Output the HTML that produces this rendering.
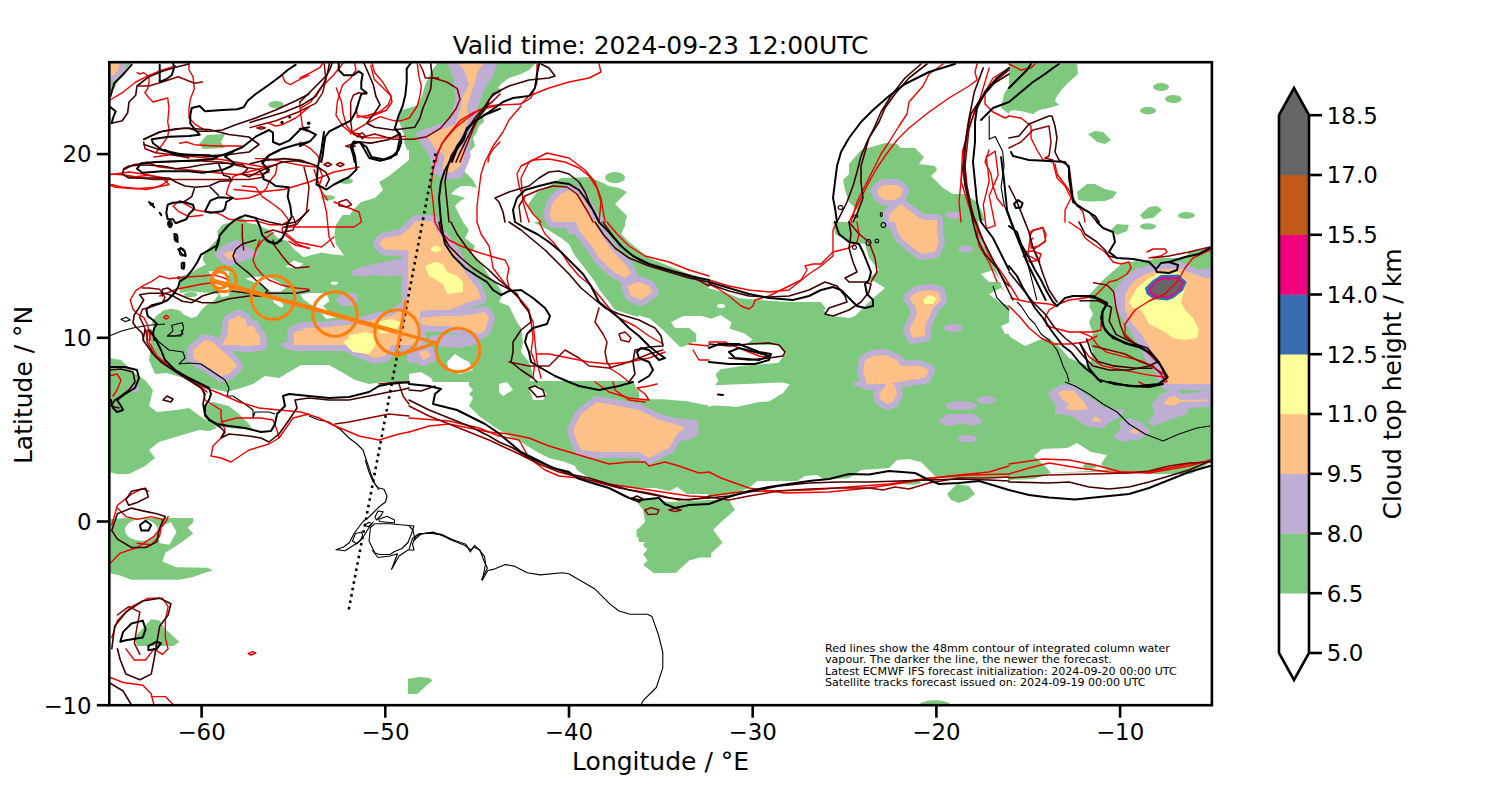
<!DOCTYPE html>
<html><head><meta charset="utf-8"><title>Cloud top height</title>
<style>html,body{margin:0;padding:0;background:#fff;} svg{display:block;}</style></head>
<body><svg width="1500" height="800" viewBox="0 0 1500 800">
<rect width="1500" height="800" fill="#fff"/>
<clipPath id="ax"><rect x="109.3" y="62.2" width="1102.6" height="643.0"/></clipPath>
<g clip-path="url(#ax)"><polygon points="109.0,62.0 132.0,62.0 127.0,68.0 121.0,76.0 117.0,82.0 115.0,88.0 109.0,92.0" fill="#7fc97f"/><ellipse cx="276.0" cy="104.6" rx="7.6" ry="3.6" fill="#7fc97f"/><polygon points="199.0,144.0 207.0,135.0 225.0,134.0 221.0,142.0 225.0,148.0 203.0,149.0" fill="#7fc97f"/><polygon points="409.0,108.0 400.0,115.0 403.0,122.0 405.0,130.0 404.0,142.0 407.0,150.0 409.0,150.0" fill="#7fc97f"/><polygon points="409.0,160.0 399.0,168.0 389.0,176.0 379.0,182.0 383.0,190.0 375.0,198.0 361.0,202.0 353.0,210.0 345.0,222.0 409.0,222.0" fill="#7fc97f"/><ellipse cx="346.0" cy="181.0" rx="7.0" ry="3.0" fill="#7fc97f"/><ellipse cx="328.0" cy="197.6" rx="7.0" ry="2.6" fill="#7fc97f"/><polygon points="437.0,62.0 537.0,62.0 529.0,70.0 521.0,74.0 509.0,78.0 501.0,84.0 498.0,88.0 503.0,90.0 493.0,94.0 489.0,100.0 487.0,108.0 483.0,116.0 484.0,122.0 479.0,126.0 477.0,132.0 473.0,138.0 475.0,146.0 469.0,152.0 467.0,158.0 461.0,168.0 467.0,174.0 473.0,180.0 477.0,188.0 469.0,186.0 461.0,186.0 455.0,190.0 451.0,194.0 459.0,196.0 465.0,198.0 459.0,202.0 455.0,206.0 459.0,214.0 463.0,222.0 409.0,222.0 409.0,106.0 417.0,98.0 419.0,88.0 425.0,78.0 429.0,70.0 435.0,66.0" fill="#7fc97f"/><polygon points="527.0,206.0 537.0,192.0 549.0,186.0 561.0,178.0 589.0,177.0 601.0,182.0 609.0,186.0 619.0,188.0 627.0,192.0 621.0,198.0 615.0,204.0 621.0,210.0 627.0,216.0 625.0,222.0 541.0,222.0 533.0,214.0" fill="#7fc97f"/><ellipse cx="615.0" cy="177.6" rx="10.0" ry="5.6" fill="#7fc97f"/><polygon points="849.0,164.0 861.0,150.0 885.0,143.0 897.0,144.0 901.0,148.0 915.0,148.0 924.0,157.0 919.0,164.0 935.0,166.0 937.0,170.0 931.0,176.0 943.0,188.0 953.0,194.0 965.0,194.0 977.0,202.0 983.0,214.0 985.0,222.0 853.0,222.0 857.0,210.0 849.0,202.0 845.0,190.0 843.0,180.0 849.0,174.0 849.0,168.0" fill="#7fc97f"/><polygon points="1009.0,86.0 1004.0,94.0 1001.0,108.0 1009.0,114.0" fill="#7fc97f"/><polygon points="1009.0,64.0 1077.0,64.0 1078.0,74.0 1069.0,82.0 1063.0,88.0 1057.0,96.0 1055.0,101.0 1059.0,105.0 1049.0,108.0 1039.0,110.0 1033.0,114.0 1021.0,111.0 1013.0,110.0 1009.0,112.0" fill="#7fc97f"/><ellipse cx="1161.0" cy="87.0" rx="8.0" ry="4.0" fill="#7fc97f"/><ellipse cx="1173.4" cy="99.0" rx="8.4" ry="4.0" fill="#7fc97f"/><ellipse cx="1148.0" cy="110.6" rx="8.0" ry="3.8" fill="#7fc97f"/><polygon points="1088.0,134.0 1095.0,131.0 1103.0,132.0 1111.0,140.0 1105.0,144.0 1097.0,142.0" fill="#7fc97f"/><polygon points="1077.0,192.0 1087.0,184.0 1095.0,184.0 1105.0,189.0 1117.0,192.0 1113.0,198.0 1105.0,201.0 1089.0,201.6 1078.0,200.0" fill="#7fc97f"/><polygon points="1140.0,215.0 1149.0,207.0 1157.0,206.0 1162.0,210.0 1153.0,218.0 1143.0,219.0" fill="#7fc97f"/><ellipse cx="1186.4" cy="215.4" rx="8.4" ry="3.4" fill="#7fc97f"/><polygon points="180.0,215.0 420.0,215.0 420.0,345.0 180.0,345.0" fill="#7fc97f"/><polygon points="180.0,215.0 240.1,215.0 233.6,221.5 222.2,224.7 217.4,231.2 218.2,237.7 212.5,244.2 204.4,252.4 202.7,258.9 207.6,263.7 197.9,268.6 189.7,273.5 180.0,276.7" fill="#ffffff"/><polygon points="240.1,215.0 342.5,215.0 336.0,224.7 334.4,234.5 336.0,244.2 344.1,255.6 329.5,254.0 321.4,252.4 303.5,257.2 293.7,249.1 287.2,241.0 277.5,237.7 271.0,231.2 258.0,224.7 248.2,223.1" fill="#ffffff"/><polygon points="285.6,267.0 293.7,260.5 303.5,263.7 297.0,268.6" fill="#ffffff"/><polygon points="245.0,278.4 254.7,276.7 267.7,276.7 280.7,283.2 285.6,288.1 280.7,291.4 271.0,291.4 264.5,286.5" fill="#ffffff"/><polygon points="271.0,296.2 277.5,296.2 284.0,306.0 280.7,307.6 274.2,302.7" fill="#ffffff"/><polygon points="300.2,294.6 310.0,293.0 326.2,293.0 329.5,301.1 323.0,306.0 329.5,312.5 336.0,317.4 326.2,319.0 319.7,310.9 313.2,306.0 303.5,299.5" fill="#ffffff"/><polygon points="180.0,293.0 189.7,291.4 212.5,293.0 219.0,294.6 209.2,306.0 199.5,315.7 193.0,319.0 186.5,315.7 180.0,312.5" fill="#ffffff"/><ellipse cx="334.4" cy="283.2" rx="3.6" ry="1.6" fill="#ffffff"/><polygon points="149.0,330.0 409.0,330.0 409.0,382.0 397.0,384.0 385.0,382.0 369.0,384.0 355.0,380.0 345.0,374.0 329.0,365.0 301.0,365.0 289.0,372.0 279.0,378.0 265.0,376.0 253.0,384.0 241.0,388.0 227.0,392.0 209.0,388.0 189.0,380.0 177.0,376.0 167.0,373.0 155.0,374.0 149.0,360.0 151.0,346.0" fill="#7fc97f"/><polygon points="109.0,358.0 121.0,360.0 133.0,372.0 145.0,380.0 153.0,390.0 149.0,406.0 157.0,412.0 177.0,410.0 189.0,408.0 197.0,414.0 209.0,422.0 217.0,428.0 209.0,431.0 199.0,430.0 179.0,436.0 159.0,442.0 149.0,450.0 155.0,458.0 145.0,466.0 129.0,474.0 117.0,474.0 109.0,472.0" fill="#7fc97f"/><polygon points="205.0,406.0 213.0,402.0 229.0,406.0 239.0,414.0 249.0,424.0 253.0,430.0 229.0,428.0 213.0,426.0 205.0,418.0" fill="#7fc97f"/><polygon points="409.0,222.0 463.0,222.0 469.0,230.0 465.0,238.0 475.0,246.0 471.0,254.0 479.0,260.0 483.0,266.0 489.0,276.0 497.0,284.0 503.0,294.0 499.0,302.0 509.0,306.0 513.0,314.0 517.0,322.0 521.0,328.0 523.0,342.0 521.0,352.0 529.0,362.0 533.0,374.0 529.0,382.0 409.0,382.0" fill="#7fc97f"/><polygon points="447.0,362.0 455.0,354.0 461.0,358.0 469.0,362.0 473.0,370.0 461.0,374.0 449.0,372.0" fill="#ffffff"/><polygon points="409.0,374.0 421.0,372.0 431.0,378.0 433.0,382.0 409.0,382.0" fill="#ffffff"/><polygon points="533.0,222.0 625.0,222.0 625.0,226.0 621.0,234.0 629.0,242.0 639.0,250.0 649.0,258.0 669.0,266.0 689.0,274.0 709.0,278.0 709.0,344.0 693.0,342.0 681.0,348.0 675.0,342.0 663.0,330.0 649.0,318.0 635.0,316.0 615.0,310.0 609.0,302.0 601.0,292.0 595.0,282.0 589.0,274.0 583.0,266.0 575.0,256.0 569.0,244.0 561.0,238.0 545.0,228.0" fill="#7fc97f"/><polygon points="671.0,322.0 681.0,318.0 695.0,320.0 689.0,328.0 675.0,328.0" fill="#ffffff"/><polygon points="709.0,222.0 1009.0,222.0 1009.0,382.0 709.0,382.0" fill="#7fc97f"/><polygon points="708.0,221.0 833.0,221.0 835.0,234.0 849.0,242.0 865.0,244.0 869.0,258.0 879.0,270.0 869.0,278.0 885.0,288.0 869.0,302.0 855.0,316.0 849.0,318.0 835.0,316.0 827.0,310.0 821.0,302.0 789.0,302.0 759.0,300.0 739.0,298.0 729.0,294.0 708.0,288.0" fill="#ffffff"/><polygon points="708.0,320.0 721.0,316.0 731.0,324.0 729.0,330.0 745.0,334.0 751.0,340.0 743.0,344.0 729.0,342.0 708.0,342.0" fill="#ffffff"/><ellipse cx="721.0" cy="306.0" rx="4.0" ry="2.0" fill="#ffffff"/><polygon points="708.0,366.0 715.0,368.0 717.0,382.0 708.0,382.0" fill="#ffffff"/><polygon points="981.0,274.0 993.0,270.0 1001.0,282.0 989.0,282.0" fill="#ffffff"/><polygon points="989.0,294.0 1001.0,288.0 1010.0,298.0 1010.0,306.0 999.0,302.0" fill="#ffffff"/><polygon points="1001.0,326.0 1010.0,322.0 1010.0,334.0 1005.0,334.0" fill="#ffffff"/><polygon points="1111.0,230.0 1117.0,224.0 1129.0,225.0 1127.0,231.0 1117.0,235.0" fill="#7fc97f"/><ellipse cx="1148.0" cy="226.4" rx="8.0" ry="3.2" fill="#7fc97f"/><polygon points="1009.0,336.0 1025.0,346.0 1039.0,340.0 1049.0,338.0 1057.0,344.0 1069.0,358.0 1089.0,366.0 1093.0,352.0 1089.0,342.0 1093.0,334.0 1089.0,322.0 1093.0,314.0 1089.0,306.0 1099.0,298.0 1109.0,286.0 1117.0,276.0 1127.0,266.0 1137.0,262.0 1149.0,260.0 1161.0,258.0 1185.0,258.0 1189.0,252.0 1211.0,248.0 1211.0,384.0 1009.0,384.0" fill="#7fc97f"/><polygon points="469.0,381.0 709.0,381.0 709.0,494.0 687.0,494.0 677.0,487.0 669.0,491.0 655.0,488.0 629.0,488.0 609.0,486.0 589.0,478.0 577.0,470.0 575.0,466.0 565.0,462.0 549.0,458.0 537.0,452.0 521.0,442.0 509.0,436.0 493.0,426.0 479.0,416.0 469.0,406.0 473.0,398.0 469.0,394.0 473.0,390.0 469.0,386.0" fill="#7fc97f"/><polygon points="637.0,502.0 649.0,498.0 669.0,502.0 709.0,500.0 709.0,542.0 639.0,542.0 637.0,530.0 645.0,522.0 643.0,510.0" fill="#7fc97f"/><polygon points="499.0,384.0 507.0,382.0 513.0,390.0 503.0,396.0 499.0,392.0" fill="#ffffff"/><polygon points="529.0,388.0 539.0,386.0 547.0,394.0 543.0,400.0 533.0,400.0" fill="#ffffff"/><polygon points="633.0,381.0 709.0,381.0 709.0,402.0 699.0,400.0 669.0,398.0 649.0,394.0 637.0,390.0" fill="#ffffff"/><polygon points="107.6,519.4 125.9,518.0 193.3,518.0 193.3,522.2 187.7,527.8 193.3,533.4 182.1,541.9 165.2,553.1 162.4,561.5 176.5,567.2 207.4,567.7 213.0,570.5 204.6,572.8 193.3,577.0 179.3,579.8 131.5,579.8 120.2,575.6 107.6,572.8" fill="#7fc97f"/><polygon points="158.2,526.4 170.9,522.2 176.5,532.0 169.4,544.7 159.6,543.3" fill="#ffffff"/><polygon points="134.3,637.4 151.2,619.2 159.6,620.6 165.2,629.0 179.3,641.7 173.7,645.9 137.1,645.9" fill="#7fc97f"/><polygon points="636.6,528.9 711.0,528.9 711.0,557.4 700.0,557.4 689.1,560.6 676.0,572.7 654.1,573.3 643.1,565.0 647.5,560.6 643.1,554.1 647.5,549.7 643.1,545.3 645.3,540.9 636.6,536.6" fill="#7fc97f"/><polygon points="407.9,678.8 419.9,677.0 428.7,677.7 432.6,680.5 426.5,685.4 417.8,693.7 407.9,694.1" fill="#7fc97f"/><polygon points="708.0,381.0 1010.0,381.0 1010.0,478.0 937.0,478.0 921.0,462.0 909.0,459.0 897.0,460.0 889.0,468.0 861.0,470.0 849.0,478.0 825.0,480.0 817.0,475.0 805.0,476.0 797.0,481.0 757.0,481.0 749.0,488.0 735.0,494.0 708.0,497.0" fill="#7fc97f"/><polygon points="708.0,386.0 781.0,386.0 789.0,384.0 775.0,398.0 769.0,401.6 745.0,402.0 735.0,407.0 721.0,403.0 708.0,407.0" fill="#ffffff"/><polygon points="708.0,500.0 729.0,500.0 735.0,510.0 721.0,522.0 711.0,532.0 721.0,542.0 708.0,542.0" fill="#7fc97f"/><polygon points="947.0,494.0 957.0,484.0 969.0,486.0 975.0,494.0 967.0,500.0 959.0,503.0 951.0,500.0" fill="#7fc97f"/><ellipse cx="911.0" cy="482.4" rx="10.0" ry="2.4" fill="#7fc97f"/><polygon points="707.9,528.9 713.4,530.0 722.6,542.7 709.0,555.2 707.9,555.2" fill="#7fc97f"/><ellipse cx="934.8" cy="705.1" rx="15.3" ry="4.8" fill="#7fc97f"/><polygon points="1008.0,381.0 1211.0,381.0 1211.0,462.0 1191.0,474.0 1149.0,474.0 1137.0,471.0 1051.0,473.0 1033.0,479.0 1008.0,480.0" fill="#7fc97f"/><polygon points="1034.0,456.0 1042.0,449.0 1067.0,448.0 1077.0,443.0 1091.0,452.0 1107.0,455.0 1101.0,464.0 1107.0,470.0 1051.0,473.0 1045.0,466.0" fill="#ffffff"/><ellipse cx="1090.0" cy="466.0" rx="7.0" ry="3.0" fill="#7fc97f"/><polygon points="229.0,224.4 217.8,233.8 219.6,241.3 214.0,246.9 206.5,252.5 202.8,260.0 206.5,265.6 210.3,271.3 221.5,297.5 214.0,301.3 206.5,305.0 200.9,310.6 197.1,316.3 191.5,318.1 184.0,316.3 180.3,310.6 170.9,308.8 163.4,310.6 155.9,316.3 152.1,321.9 154.0,331.3 161.5,342.5 165.3,350.0 229.0,350.0" fill="#7fc97f"/><polygon points="208.4,271.3 229.0,271.3 229.0,295.6 221.5,297.5" fill="#ffffff"/><ellipse cx="190.6" cy="294.7" rx="6.6" ry="2.6" fill="#7fc97f"/><polygon points="685.0,269.1 840.6,269.1 840.6,287.8 829.3,287.8 819.9,296.2 808.7,300.0 760.0,300.0 752.5,298.1 733.7,290.6 715.0,285.0 696.2,275.6" fill="#ffffff"/><polygon points="823.7,310.3 833.1,304.7 840.6,303.7 840.6,316.9 829.3,315.9" fill="#ffffff"/><polygon points="672.8,321.5 683.1,315.9 701.9,315.9 711.2,318.7 720.6,315.0 731.8,322.5 728.1,328.1 745.0,333.7 752.5,339.4 745.0,345.0 696.2,345.0 696.2,333.7 686.9,326.2" fill="#ffffff"/><polygon points="639.1,315.0 647.5,318.7 658.7,331.9 664.4,345.0 673.7,347.8 696.2,345.0 778.7,345.0 786.2,352.5 778.7,362.8 745.0,365.6 720.6,369.3 715.0,375.0 718.7,380.6 715.0,385.3 782.5,382.5 790.0,384.3 782.5,393.7 771.2,399.3 737.5,406.8 705.6,405.0 686.9,401.2 662.5,399.3 639.1,399.3" fill="#ffffff"/><polygon points="978.0,221.0 1010.0,221.0 1010.0,305.0 1002.0,287.0 994.0,263.0 982.0,243.0" fill="#ffffff"/><polygon points="1089.0,295.1 1102.5,280.5 1120.5,264.7 1138.5,260.2 1134.0,269.2 1113.7,291.7 1098.0,307.5 1090.1,305.2" fill="#7fc97f"/><polygon points="409.0,61.0 439.0,61.0 431.0,72.0 425.0,85.0 422.0,96.0 416.0,106.0 409.0,108.0" fill="#ffffff"/><polygon points="402.0,110.0 416.0,106.0 410.0,150.0 398.0,119.0" fill="#7fc97f"/><ellipse cx="141.3" cy="530.0" rx="16.3" ry="10.7" fill="#ffffff"/>
<g fill="#beaed4"><polygon points="893.0,200.0 901.0,200.0 904.0,205.0 895.0,208.0"/><ellipse cx="954.0" cy="215.0" rx="9.0" ry="3.6"/><polygon points="214.1,254.0 225.5,244.2 236.9,239.4 248.2,247.5 259.6,254.0 249.9,258.9 235.2,263.7 222.2,263.7"/><polygon points="350.6,271.9 360.4,267.0 375.0,263.7 391.2,260.5 407.5,257.2 420.0,257.2 420.0,276.7 407.5,273.5 391.2,276.7 375.0,275.1 360.4,276.7 352.2,275.1"/><polygon points="336.0,299.5 342.5,293.0 355.5,293.0 358.7,299.5 352.2,306.0 340.9,306.0"/><polygon points="279.0,344.0 293.0,340.0 309.0,342.0 307.0,350.0 289.0,350.0"/><ellipse cx="134.0" cy="389.0" rx="6.0" ry="3.0"/><polygon points="429.0,336.0 449.0,334.0 475.0,336.0 479.0,344.0 459.0,348.0 433.0,346.0"/><polygon points="407.0,346.0 421.0,346.0 431.0,352.0 435.0,362.0 421.0,364.0 407.0,362.0"/><polygon points="563.0,222.0 581.0,222.0 581.0,234.0 569.0,234.0"/><ellipse cx="966.0" cy="249.0" rx="7.6" ry="3.6"/><ellipse cx="953.0" cy="328.0" rx="10.0" ry="4.0"/><polygon points="1113.0,292.0 1121.0,282.0 1129.0,274.0 1137.0,268.0 1149.0,266.0 1169.0,262.0 1185.0,264.0 1197.0,270.0 1211.0,268.0 1211.0,384.0 1165.0,384.0 1149.0,366.0 1141.0,350.0 1133.0,336.0 1125.0,322.0 1117.0,310.0 1113.0,302.0"/><polygon points="665.0,422.0 675.0,418.0 697.0,420.0 699.0,434.0 689.0,440.0 669.0,442.0"/><ellipse cx="864.0" cy="384.0" rx="11.0" ry="3.6"/><ellipse cx="961.0" cy="405.6" rx="16.0" ry="4.4"/><ellipse cx="986.6" cy="400.0" rx="9.6" ry="4.0"/><polygon points="938.0,422.0 947.0,414.0 975.0,414.0 983.0,422.0 975.0,426.0 961.0,423.0 949.0,426.4"/><ellipse cx="967.0" cy="438.6" rx="10.0" ry="3.6"/><polygon points="1047.0,394.0 1057.0,387.0 1079.0,387.0 1085.0,394.0 1097.0,402.0 1105.0,408.0 1125.0,410.0 1121.0,416.0 1111.0,422.0 1101.0,426.0 1085.0,426.0 1079.0,421.0 1069.0,414.0 1055.0,414.0 1055.0,404.0"/><polygon points="1113.0,438.0 1121.0,428.0 1119.0,422.0 1129.0,418.0 1141.0,422.0 1151.0,432.0 1141.0,438.0 1125.0,442.0"/><polygon points="1151.0,404.0 1161.0,394.0 1169.0,391.0 1181.0,394.0 1211.0,390.0 1211.0,404.0 1189.0,408.0 1187.0,414.0 1169.0,420.0 1153.0,426.0 1147.0,422.0 1155.0,414.0"/><ellipse cx="1187.0" cy="384.0" rx="12.0" ry="3.6"/><polygon points="446.8,60.9 498.0,60.9 493.5,75.3 484.6,88.7 477.9,106.5 475.7,124.3 471.3,135.4 469.0,159.9 462.4,177.7 446.8,179.9 433.5,173.2 429.0,155.4 420.1,142.1 415.7,133.2 424.6,128.7 442.3,124.3 451.2,115.4 455.7,97.6 453.5,79.8"/><ellipse cx="1166.6" cy="345.7" rx="11.2" ry="4.0"/><ellipse cx="1171.1" cy="361.4" rx="13.5" ry="4.5"/></g>
<g fill="#beaed4" stroke="#beaed4" stroke-width="12" stroke-linejoin="round"><polygon points="109.0,62.0 120.0,62.0 119.0,69.0 114.6,74.4 109.0,76.4"/><polygon points="553.0,202.0 561.0,194.0 569.0,190.0 577.0,192.0 585.0,202.0 591.0,214.0 593.0,222.0 553.0,222.0 549.0,214.0"/><polygon points="877.0,190.0 883.0,185.0 897.0,185.0 903.0,190.0 901.0,196.0 895.0,200.0 885.0,200.0 879.0,196.0"/><polygon points="889.0,214.0 901.0,204.0 909.0,210.0 919.0,218.0 929.0,222.0 889.0,222.0"/><polygon points="223.9,254.0 228.7,250.7 233.6,252.4 236.9,255.6 233.6,258.9 228.7,259.7"/><polygon points="379.1,243.3 384.4,238.1 400.7,235.5 409.0,228.5 415.9,221.0 423.7,221.0 423.7,251.6 409.0,250.4 384.4,249.4"/><polygon points="228.7,320.6 238.5,315.7 245.0,319.0 248.2,328.7 258.0,338.5 261.2,345.0 222.2,345.0 227.1,335.2"/><polygon points="293.7,332.0 310.0,328.7 326.2,327.1 342.5,325.5 358.7,323.9 375.0,319.0 391.2,315.7 407.5,306.0 420.0,299.5 420.0,345.0 293.7,345.0"/><polygon points="193.0,350.0 205.0,340.0 213.0,342.0 221.0,350.0 229.0,356.0 237.0,366.0 229.0,374.0 221.0,376.0 213.0,370.0 203.0,364.0 193.0,358.0"/><polygon points="233.0,338.0 241.0,326.0 253.0,326.0 261.0,338.0 253.0,346.0 241.0,346.0"/><polygon points="301.0,328.0 319.0,334.0 339.0,342.0 359.0,352.0 375.0,358.0 385.0,356.0 393.0,342.0 389.0,328.0"/><polygon points="409.0,228.4 416.0,221.4 432.0,221.0 437.0,231.0 444.0,239.0 449.0,246.0 455.0,254.0 461.0,266.0 469.0,278.0 477.0,288.0 481.0,298.0 469.0,302.0 459.0,306.0 449.0,310.0 429.0,310.0 407.0,314.0"/><polygon points="421.0,318.0 439.0,316.0 459.0,316.0 475.0,314.0 485.0,312.0 489.0,318.0 485.0,330.0 479.0,334.0 469.0,330.0 449.0,326.0 429.0,326.0 421.0,324.0"/><polygon points="419.0,352.0 427.0,350.0 431.0,356.0 423.0,360.0"/><polygon points="575.0,220.0 597.0,220.0 601.0,234.0 609.0,246.0 617.0,256.0 627.0,266.0 631.0,274.0 625.0,278.0 617.0,274.0 607.0,266.0 599.0,258.0 593.0,248.0 585.0,238.0 579.0,230.0"/><polygon points="627.0,286.0 639.0,282.0 649.0,286.0 653.0,292.0 641.0,300.0 631.0,296.0"/><polygon points="895.0,220.0 937.0,220.0 937.0,234.0 939.0,242.0 935.0,252.0 921.0,254.0 913.0,248.0 901.0,238.0 897.0,230.0"/><polygon points="909.0,298.0 917.0,292.0 929.0,290.0 939.0,292.0 941.0,300.0 933.0,308.0 929.0,318.0 925.0,326.0 925.0,336.0 913.0,338.0 909.0,330.0 913.0,322.0 917.0,314.0 915.0,306.0"/><polygon points="865.0,360.0 873.0,356.0 885.0,355.0 897.0,360.0 901.0,366.0 919.0,366.0 929.0,370.0 925.0,378.0 909.0,380.0 889.0,384.0 867.0,384.0 863.0,372.0"/><polygon points="1125.0,294.0 1133.0,282.0 1145.0,274.0 1159.0,270.0 1179.0,268.0 1193.0,274.0 1205.0,278.0 1211.0,278.0 1211.0,384.0 1167.0,384.0 1157.0,362.0 1149.0,346.0 1141.0,334.0 1131.0,322.0 1125.0,310.0"/><polygon points="573.0,430.0 581.0,414.0 597.0,402.0 619.0,406.0 639.0,410.0 659.0,420.0 675.0,424.0 685.0,428.0 677.0,434.0 669.0,448.0 649.0,458.0 639.0,452.0 619.0,452.0 599.0,452.0 581.0,450.0 577.0,442.0"/><polygon points="879.0,394.0 885.0,386.0 889.0,380.0 895.0,386.0 897.0,394.0 893.0,402.0 887.0,404.0 881.0,400.0"/><polygon points="1058.0,393.0 1063.0,390.4 1074.0,390.4 1078.0,396.0 1084.0,402.0 1088.0,409.0 1075.0,410.4 1065.0,409.0 1069.0,404.0 1063.0,400.0"/><polygon points="1091.0,421.0 1095.0,416.4 1100.0,419.0 1102.0,422.0"/><polygon points="1129.0,432.0 1134.0,428.4 1140.0,431.0 1137.0,434.0"/><polygon points="1163.0,404.0 1169.0,397.0 1175.0,396.0 1181.0,400.0 1207.0,399.6 1207.0,401.2 1179.0,402.0 1175.0,406.0"/><polygon points="456.8,60.9 485.7,60.9 477.9,70.9 475.7,79.8 471.3,93.1 466.8,106.5 469.0,119.8 464.6,128.7 460.1,137.6 464.6,155.4 460.1,166.5 451.2,173.2 442.3,168.8 444.6,155.4 433.5,146.5 426.8,135.4 437.9,131.0 455.7,124.3 460.1,110.9 462.4,97.6 469.0,84.2 464.6,70.9"/></g>
<g fill="#fdc086"><polygon points="109.0,62.0 120.0,62.0 119.0,69.0 114.6,74.4 109.0,76.4"/><polygon points="553.0,202.0 561.0,194.0 569.0,190.0 577.0,192.0 585.0,202.0 591.0,214.0 593.0,222.0 553.0,222.0 549.0,214.0"/><polygon points="877.0,190.0 883.0,185.0 897.0,185.0 903.0,190.0 901.0,196.0 895.0,200.0 885.0,200.0 879.0,196.0"/><polygon points="889.0,214.0 901.0,204.0 909.0,210.0 919.0,218.0 929.0,222.0 889.0,222.0"/><polygon points="223.9,254.0 228.7,250.7 233.6,252.4 236.9,255.6 233.6,258.9 228.7,259.7"/><polygon points="379.1,243.3 384.4,238.1 400.7,235.5 409.0,228.5 415.9,221.0 423.7,221.0 423.7,251.6 409.0,250.4 384.4,249.4"/><polygon points="228.7,320.6 238.5,315.7 245.0,319.0 248.2,328.7 258.0,338.5 261.2,345.0 222.2,345.0 227.1,335.2"/><polygon points="293.7,332.0 310.0,328.7 326.2,327.1 342.5,325.5 358.7,323.9 375.0,319.0 391.2,315.7 407.5,306.0 420.0,299.5 420.0,345.0 293.7,345.0"/><polygon points="193.0,350.0 205.0,340.0 213.0,342.0 221.0,350.0 229.0,356.0 237.0,366.0 229.0,374.0 221.0,376.0 213.0,370.0 203.0,364.0 193.0,358.0"/><polygon points="233.0,338.0 241.0,326.0 253.0,326.0 261.0,338.0 253.0,346.0 241.0,346.0"/><polygon points="301.0,328.0 319.0,334.0 339.0,342.0 359.0,352.0 375.0,358.0 385.0,356.0 393.0,342.0 389.0,328.0"/><polygon points="409.0,228.4 416.0,221.4 432.0,221.0 437.0,231.0 444.0,239.0 449.0,246.0 455.0,254.0 461.0,266.0 469.0,278.0 477.0,288.0 481.0,298.0 469.0,302.0 459.0,306.0 449.0,310.0 429.0,310.0 407.0,314.0"/><polygon points="421.0,318.0 439.0,316.0 459.0,316.0 475.0,314.0 485.0,312.0 489.0,318.0 485.0,330.0 479.0,334.0 469.0,330.0 449.0,326.0 429.0,326.0 421.0,324.0"/><polygon points="419.0,352.0 427.0,350.0 431.0,356.0 423.0,360.0"/><polygon points="575.0,220.0 597.0,220.0 601.0,234.0 609.0,246.0 617.0,256.0 627.0,266.0 631.0,274.0 625.0,278.0 617.0,274.0 607.0,266.0 599.0,258.0 593.0,248.0 585.0,238.0 579.0,230.0"/><polygon points="627.0,286.0 639.0,282.0 649.0,286.0 653.0,292.0 641.0,300.0 631.0,296.0"/><polygon points="895.0,220.0 937.0,220.0 937.0,234.0 939.0,242.0 935.0,252.0 921.0,254.0 913.0,248.0 901.0,238.0 897.0,230.0"/><polygon points="909.0,298.0 917.0,292.0 929.0,290.0 939.0,292.0 941.0,300.0 933.0,308.0 929.0,318.0 925.0,326.0 925.0,336.0 913.0,338.0 909.0,330.0 913.0,322.0 917.0,314.0 915.0,306.0"/><polygon points="865.0,360.0 873.0,356.0 885.0,355.0 897.0,360.0 901.0,366.0 919.0,366.0 929.0,370.0 925.0,378.0 909.0,380.0 889.0,384.0 867.0,384.0 863.0,372.0"/><polygon points="1125.0,294.0 1133.0,282.0 1145.0,274.0 1159.0,270.0 1179.0,268.0 1193.0,274.0 1205.0,278.0 1211.0,278.0 1211.0,384.0 1167.0,384.0 1157.0,362.0 1149.0,346.0 1141.0,334.0 1131.0,322.0 1125.0,310.0"/><polygon points="573.0,430.0 581.0,414.0 597.0,402.0 619.0,406.0 639.0,410.0 659.0,420.0 675.0,424.0 685.0,428.0 677.0,434.0 669.0,448.0 649.0,458.0 639.0,452.0 619.0,452.0 599.0,452.0 581.0,450.0 577.0,442.0"/><polygon points="879.0,394.0 885.0,386.0 889.0,380.0 895.0,386.0 897.0,394.0 893.0,402.0 887.0,404.0 881.0,400.0"/><polygon points="1058.0,393.0 1063.0,390.4 1074.0,390.4 1078.0,396.0 1084.0,402.0 1088.0,409.0 1075.0,410.4 1065.0,409.0 1069.0,404.0 1063.0,400.0"/><polygon points="1091.0,421.0 1095.0,416.4 1100.0,419.0 1102.0,422.0"/><polygon points="1129.0,432.0 1134.0,428.4 1140.0,431.0 1137.0,434.0"/><polygon points="1163.0,404.0 1169.0,397.0 1175.0,396.0 1181.0,400.0 1207.0,399.6 1207.0,401.2 1179.0,402.0 1175.0,406.0"/><polygon points="456.8,60.9 485.7,60.9 477.9,70.9 475.7,79.8 471.3,93.1 466.8,106.5 469.0,119.8 464.6,128.7 460.1,137.6 464.6,155.4 460.1,166.5 451.2,173.2 442.3,168.8 444.6,155.4 433.5,146.5 426.8,135.4 437.9,131.0 455.7,124.3 460.1,110.9 462.4,97.6 469.0,84.2 464.6,70.9"/></g>
<g fill="#ffff99"><polygon points="375.0,322.2 391.2,319.0 401.0,322.2 394.5,332.0 379.9,333.6"/><polygon points="349.0,335.2 365.2,332.0 378.2,335.2 375.0,345.0 349.0,345.0"/><polygon points="343.0,342.0 353.0,336.0 369.0,336.0 375.0,346.0 369.0,354.0 353.0,352.0"/><polygon points="425.0,266.0 435.0,262.0 443.0,264.0 447.0,272.0 457.0,276.0 463.0,282.0 463.0,292.0 447.0,294.0 443.0,284.0 429.0,276.0"/><ellipse cx="436.0" cy="249.0" rx="5.0" ry="3.0"/><polygon points="923.0,300.0 929.0,295.0 937.0,298.0 933.0,304.0 925.0,304.0"/><polygon points="1129.0,302.0 1137.0,288.0 1149.0,278.0 1161.0,272.0 1179.0,272.0 1185.0,280.0 1185.0,288.0 1181.0,302.0 1185.0,310.0 1193.0,318.0 1199.0,330.0 1197.0,338.0 1185.0,340.0 1173.0,338.0 1165.0,332.0 1157.0,328.0 1149.0,324.0 1145.0,316.0 1141.0,310.0 1133.0,308.0"/></g>
<g fill="#386cb0"><polygon points="1145.0,288.0 1153.0,280.0 1161.0,275.0 1179.0,274.4 1186.6,282.0 1183.0,290.4 1173.0,298.4 1167.0,300.4 1153.0,299.0 1146.6,294.0"/></g>
<g fill="#f0027f"><polygon points="1149.0,288.0 1156.0,281.0 1162.0,277.6 1178.0,277.0 1183.4,282.4 1180.6,289.6 1172.0,296.4 1167.0,298.0 1154.6,296.8 1149.4,293.0"/></g>
<g fill="#666666"><polygon points="1151.4,288.0 1157.4,282.0 1163.0,279.6 1177.0,279.0 1181.4,283.0 1179.0,289.0 1171.0,295.2 1167.0,296.4 1156.0,295.2 1151.4,292.0"/></g>
<polygon points="856.5,247.4 856.1,248.6 855.1,249.3 853.9,249.3 852.9,248.6 852.5,247.4 852.9,246.2 853.9,245.5 855.1,245.5 856.1,246.2" fill="none" stroke="#000" stroke-width="1.1" stroke-linejoin="round"/>
<polygon points="878.7,241.0 878.4,242.1 877.5,242.7 876.3,242.7 875.4,242.1 875.1,241.0 875.4,239.9 876.3,239.3 877.5,239.3 878.4,239.9" fill="none" stroke="#000" stroke-width="1.1" stroke-linejoin="round"/>
<polygon points="871.0,242.5 870.5,244.3 869.3,245.4 867.7,245.4 866.5,244.3 866.0,242.5 866.5,240.7 867.7,239.6 869.3,239.6 870.5,240.7" fill="none" stroke="#000" stroke-width="1.1" stroke-linejoin="round"/>
<polygon points="885.9,225.0 885.4,226.5 884.2,227.4 882.6,227.4 881.4,226.5 880.9,225.0 881.4,223.5 882.6,222.6 884.2,222.6 885.4,223.5" fill="none" stroke="#000" stroke-width="1.1" stroke-linejoin="round"/>
<polygon points="882.3,214.5 882.1,215.7 881.6,216.4 881.0,216.4 880.5,215.7 880.3,214.5 880.5,213.3 881.0,212.6 881.6,212.6 882.1,213.3" fill="none" stroke="#000" stroke-width="1.1" stroke-linejoin="round"/>
<polygon points="857.9,216.2 857.4,216.9 856.2,217.3 854.6,217.3 853.4,216.9 852.9,216.2 853.4,215.5 854.6,215.1 856.2,215.1 857.4,215.5" fill="none" stroke="#000" stroke-width="1.1" stroke-linejoin="round"/>
<polygon points="843.0,207.5 842.5,208.7 841.3,209.4 839.7,209.4 838.5,208.7 838.0,207.5 838.5,206.3 839.7,205.6 841.3,205.6 842.5,206.3" fill="none" stroke="#000" stroke-width="1.1" stroke-linejoin="round"/>
<polygon points="153.6,204.1 153.4,204.7 152.7,205.1 151.8,205.3 150.8,205.1 150.1,204.7 149.9,204.1 150.1,203.6 150.8,203.2 151.8,203.0 152.7,203.2 153.4,203.6" fill="none" stroke="#000" stroke-width="1.1" stroke-linejoin="round"/>
<polygon points="179.9,277.8 179.7,278.4 179.3,278.8 178.8,278.9 178.2,278.8 177.8,278.4 177.6,277.8 177.8,277.3 178.2,276.8 178.8,276.7 179.3,276.8 179.7,277.3" fill="none" stroke="#000" stroke-width="1.1" stroke-linejoin="round"/>
<polygon points="184.8,265.6 184.5,267.3 183.9,268.6 183.1,269.0 182.2,268.6 181.6,267.3 181.4,265.6 181.6,263.9 182.2,262.7 183.1,262.3 183.9,262.7 184.5,263.9" fill="none" stroke="#000" stroke-width="1.1" stroke-linejoin="round"/>
<polygon points="184.9,252.1 184.6,254.0 183.5,255.4 182.1,255.9 180.7,255.4 179.7,254.0 179.3,252.1 179.7,250.3 180.7,248.9 182.1,248.4 183.5,248.9 184.6,250.3" fill="none" stroke="#000" stroke-width="1.1" stroke-linejoin="round"/>
<polygon points="177.8,237.5 177.6,239.4 176.9,240.8 175.9,241.3 175.0,240.8 174.3,239.4 174.1,237.5 174.3,235.6 175.0,234.3 175.9,233.8 176.9,234.3 177.6,235.6" fill="none" stroke="#000" stroke-width="1.1" stroke-linejoin="round"/>
<polygon points="172.2,224.0 171.9,225.7 171.1,226.9 169.9,227.4 168.8,226.9 168.0,225.7 167.7,224.0 168.0,222.3 168.8,221.1 169.9,220.6 171.1,221.1 171.9,222.3" fill="none" stroke="#000" stroke-width="1.1" stroke-linejoin="round"/>
<polyline points="989.2,115.5 989.2,139.3 995.2,136.4 1002.6,151.2 1004.1,166.1 1001.1,186.9 1004.1,204.8 1013.0,228.6 1024.9,252.4 1030.9,276.2 1036.8,300.0" fill="none" stroke="#000" stroke-width="1.1" stroke-linejoin="round"/>
<polyline points="409.0,549.7 412.3,538.8 417.8,534.4 430.9,532.6 441.8,534.4 452.8,539.8 465.9,544.2 470.3,551.9 474.6,545.3 479.0,549.7 484.5,556.3 485.6,563.9 482.3,580.3 487.8,570.5 493.2,569.4 505.3,564.6 514.0,566.1 527.2,572.7 540.3,574.9 562.2,572.7 568.7,573.8 595.0,589.1 610.3,604.4 619.1,611.0 630.0,614.2 647.5,614.2 651.9,616.4 658.5,635.0 662.8,652.5 662.8,667.9 656.3,687.5 643.1,700.7 640.9,705.1" fill="none" stroke="#000" stroke-width="1.1" stroke-linejoin="round"/>
<polygon points="352.5,541.0 355.5,533.5 361.5,532.0 363.0,536.5 357.0,544.0 352.5,541.0" fill="none" stroke="#000" stroke-width="1.1" stroke-linejoin="round"/>
<polygon points="364.5,525.2 369.0,522.2 372.0,523.7 368.2,526.7 364.5,525.2" fill="none" stroke="#000" stroke-width="1.1" stroke-linejoin="round"/>
<polygon points="378.7,519.2 387.0,516.2 394.5,520.0 394.5,523.0 379.5,521.5 378.7,519.2" fill="none" stroke="#000" stroke-width="1.1" stroke-linejoin="round"/>
<polygon points="375.0,517.0 378.0,511.0 383.2,511.7 381.0,515.5 376.5,520.0 375.0,517.0" fill="none" stroke="#000" stroke-width="1.1" stroke-linejoin="round"/>
<polyline points="372.0,550.0 378.0,557.5 390.0,556.0 397.5,553.7 391.5,569.5 399.0,556.0 408.0,550.0 414.0,550.0 412.5,544.0 415.5,536.5 420.0,533.5 432.0,533.5 442.5,535.0 450.0,539.5 465.0,545.5 471.0,550.0 473.9,547.0 479.9,550.0 484.4,562.0 487.4,568.0 484.4,574.0 481.4,580.0" fill="none" stroke="#000" stroke-width="1.1" stroke-linejoin="round"/>
<polygon points="370.5,527.5 375.0,523.7 390.0,523.7 414.0,526.0 411.0,535.0 408.0,542.5 402.0,548.5 394.5,551.5 390.0,554.5 379.5,554.5 375.0,553.0 372.0,547.0 369.0,541.0 370.5,527.5" fill="none" stroke="#000" stroke-width="1.1" stroke-linejoin="round"/>
<polyline points="365.2,460.0 369.0,472.0 372.7,481.0 378.0,487.7 384.0,489.2 387.0,496.0 385.5,502.0 379.5,506.5 375.0,511.0 369.0,517.0 363.0,521.5 358.5,527.5 354.0,533.5 349.5,542.5 343.5,547.0 336.0,549.7 345.0,550.7 351.0,547.0 360.0,541.0 364.5,535.0 369.0,527.5 373.5,521.5" fill="none" stroke="#000" stroke-width="1.1" stroke-linejoin="round"/>
<polyline points="1065.0,382.0 1075.0,386.0 1089.0,394.0 1103.0,404.0 1117.0,412.0 1129.0,424.0 1145.0,434.0 1163.0,441.0 1179.0,434.0 1197.0,428.0 1210.0,426.0" fill="none" stroke="#000" stroke-width="1.1" stroke-linejoin="round"/>
<polyline points="413.0,541.0 421.0,534.0 433.0,532.0 443.0,536.0 455.0,541.0" fill="none" stroke="#000" stroke-width="1.1" stroke-linejoin="round"/>
<polyline points="409.0,526.0 413.0,530.0 415.0,540.0" fill="none" stroke="#000" stroke-width="1.1" stroke-linejoin="round"/>
<polyline points="167.0,336.0 175.0,336.0 183.0,334.0 181.0,330.0" fill="none" stroke="#000" stroke-width="1.1" stroke-linejoin="round"/>
<polyline points="309.0,416.0 319.0,420.0 329.0,422.0 341.0,430.0 349.0,438.0 357.0,444.0 363.0,450.0 367.0,462.0 371.0,474.0 375.0,484.0 379.0,490.0" fill="none" stroke="#000" stroke-width="1.1" stroke-linejoin="round"/>
<polyline points="149.0,330.0 159.0,342.0 169.0,350.0 183.0,352.0 185.0,358.0 179.0,364.0 189.0,363.0 201.0,364.0 213.0,372.0 225.0,380.0 229.0,388.0 227.0,396.0 233.0,396.0 245.0,404.0 253.0,410.0 253.0,418.0 255.0,412.0 269.0,412.0 275.0,414.0" fill="none" stroke="#000" stroke-width="1.1" stroke-linejoin="round"/>
<polyline points="993.0,286.0 997.0,298.0 1005.0,306.0 1009.0,310.0" fill="none" stroke="#000" stroke-width="1.1" stroke-linejoin="round"/>
<polyline points="1017.0,302.0 1021.0,306.0 1025.0,312.0 1029.0,318.0 1035.0,324.0 1041.0,334.0 1049.0,340.0 1057.0,350.0 1061.0,360.0 1063.0,366.0 1067.0,374.0 1069.0,382.0" fill="none" stroke="#000" stroke-width="1.1" stroke-linejoin="round"/>
<polygon points="121.0,319.3 126.3,317.3 130.3,320.0 125.0,321.6 121.0,319.3" fill="none" stroke="#000" stroke-width="1.1" stroke-linejoin="round"/>
<polygon points="171.7,325.3 182.3,322.7 183.7,328.0 181.0,336.0 167.7,336.0 173.0,330.7 171.7,325.3" fill="none" stroke="#000" stroke-width="1.1" stroke-linejoin="round"/>
<polyline points="109.0,336.0 122.3,330.7 133.0,328.0 149.0,325.3 165.0,324.0" fill="none" stroke="#000" stroke-width="1.1" stroke-linejoin="round"/>
<polyline points="189.0,62.0 189.0,70.0 193.0,76.7 194.3,88.7 190.3,99.3 189.0,108.7 189.0,118.0 195.7,124.7 202.3,128.7 207.7,131.3" fill="none" stroke="#f20000" stroke-width="1.4" stroke-linejoin="round" stroke-linecap="round"/>
<polyline points="145.0,92.7 149.0,98.0 153.0,102.0 167.7,98.0 169.0,108.7 167.7,122.0 169.0,128.7 167.7,136.7 162.3,144.7 155.7,152.7" fill="none" stroke="#f20000" stroke-width="1.4" stroke-linejoin="round" stroke-linecap="round"/>
<polyline points="137.0,72.7 139.7,74.0 143.7,72.7 149.0,76.7 149.0,82.0 147.7,88.7 145.0,92.7" fill="none" stroke="#f20000" stroke-width="1.4" stroke-linejoin="round" stroke-linecap="round"/>
<polyline points="109.0,100.7 122.3,92.7 135.7,82.0 149.0,75.3 162.3,70.0 175.7,66.0" fill="none" stroke="#f20000" stroke-width="1.4" stroke-linejoin="round" stroke-linecap="round"/>
<polyline points="282.3,75.3 285.0,82.0 290.3,84.7 302.3,78.0 309.0,75.3" fill="none" stroke="#f20000" stroke-width="1.4" stroke-linejoin="round" stroke-linecap="round"/>
<polyline points="269.0,123.3 275.7,126.0 282.3,124.7 295.7,118.0 309.0,107.3" fill="none" stroke="#f20000" stroke-width="1.4" stroke-linejoin="round" stroke-linecap="round"/>
<polyline points="299.7,102.0 301.0,115.3 302.3,126.0 306.3,131.3" fill="none" stroke="#f20000" stroke-width="1.4" stroke-linejoin="round" stroke-linecap="round"/>
<polyline points="179.7,143.3 186.3,142.0 194.3,144.7 215.7,146.0 242.3,146.0" fill="none" stroke="#f20000" stroke-width="1.4" stroke-linejoin="round" stroke-linecap="round"/>
<polyline points="300.0,78.0 310.7,72.7 320.0,67.3 322.7,63.3" fill="none" stroke="#f20000" stroke-width="1.4" stroke-linejoin="round" stroke-linecap="round"/>
<polyline points="300.0,108.7 310.7,102.0 320.0,88.7 333.3,75.3 340.0,67.3 342.7,63.3" fill="none" stroke="#f20000" stroke-width="1.4" stroke-linejoin="round" stroke-linecap="round"/>
<polyline points="354.7,63.3 356.0,70.0 350.7,78.0 342.7,84.7 340.0,92.7 337.3,102.0 336.0,115.3 342.7,126.0 350.7,132.7 360.0,134.0" fill="none" stroke="#f20000" stroke-width="1.4" stroke-linejoin="round" stroke-linecap="round"/>
<polyline points="372.0,63.3 374.7,72.7 382.7,82.0 390.7,95.3 392.0,102.0 386.7,110.0 377.3,114.0 366.7,118.0 357.3,115.3 356.0,108.7 358.7,103.3" fill="none" stroke="#f20000" stroke-width="1.4" stroke-linejoin="round" stroke-linecap="round"/>
<polyline points="417.3,63.3 418.7,75.3 421.3,86.0 420.0,95.3 417.3,106.0 409.3,118.0 401.3,120.7 393.3,120.7 380.0,116.7 366.7,123.3 353.3,131.3 350.7,134.0" fill="none" stroke="#f20000" stroke-width="1.4" stroke-linejoin="round" stroke-linecap="round"/>
<polyline points="500.0,104.7 489.3,106.0 473.3,112.7 460.0,120.7 453.3,128.7 446.7,136.7 441.3,144.7 437.3,155.3 436.0,162.0" fill="none" stroke="#f20000" stroke-width="1.4" stroke-linejoin="round" stroke-linecap="round"/>
<polyline points="300.0,142.0 304.0,144.7 310.7,148.7 317.3,155.3 321.3,162.0" fill="none" stroke="#f20000" stroke-width="1.4" stroke-linejoin="round" stroke-linecap="round"/>
<polyline points="500.0,142.0 493.3,148.7 489.3,155.3 488.0,162.0" fill="none" stroke="#f20000" stroke-width="1.4" stroke-linejoin="round" stroke-linecap="round"/>
<polyline points="109.0,174.0 122.3,174.7 135.7,176.7 149.0,175.3 165.0,178.0 167.7,180.7 162.3,184.7 155.7,187.3 135.7,188.7 115.7,187.3 109.0,184.7" fill="none" stroke="#f20000" stroke-width="1.4" stroke-linejoin="round" stroke-linecap="round"/>
<polyline points="226.3,194.0 229.0,184.7 233.0,176.7 239.7,174.0 255.7,170.0 269.0,166.0 277.0,164.7 275.7,174.0 269.0,182.0 266.3,188.7 259.7,194.0 249.0,198.0 235.7,199.3 226.3,194.0" fill="none" stroke="#f20000" stroke-width="1.4" stroke-linejoin="round" stroke-linecap="round"/>
<polyline points="242.3,186.0 255.7,187.3 262.3,196.7 275.7,206.0 282.3,211.3 289.0,220.7 282.3,224.7 269.0,224.7 255.7,220.7 242.3,220.7 229.0,219.3 222.3,215.3 215.7,212.7 202.3,211.3 195.7,210.0 186.3,204.7 179.7,200.7 173.0,206.0 178.3,211.3 189.0,216.7 202.3,215.3" fill="none" stroke="#f20000" stroke-width="1.4" stroke-linejoin="round" stroke-linecap="round"/>
<polyline points="282.3,227.3 282.3,232.7 295.7,243.3 309.0,248.7" fill="none" stroke="#f20000" stroke-width="1.4" stroke-linejoin="round" stroke-linecap="round"/>
<polyline points="255.7,250.0 262.3,240.7 273.0,232.7" fill="none" stroke="#f20000" stroke-width="1.4" stroke-linejoin="round" stroke-linecap="round"/>
<polyline points="130.3,300.0 135.7,290.7 143.7,285.3 151.7,281.3 159.7,276.0 169.0,278.7 182.3,277.3 202.3,276.0 213.0,274.7 222.3,277.3 229.0,280.0" fill="none" stroke="#f20000" stroke-width="1.4" stroke-linejoin="round" stroke-linecap="round"/>
<polyline points="309.0,248.0 295.7,245.3 289.0,241.3" fill="none" stroke="#f20000" stroke-width="1.4" stroke-linejoin="round" stroke-linecap="round"/>
<polyline points="259.7,240.0 255.7,250.7 253.0,260.0 255.7,266.7 262.3,274.7 269.0,280.0 282.3,285.3 295.7,288.0 309.0,289.3" fill="none" stroke="#f20000" stroke-width="1.4" stroke-linejoin="round" stroke-linecap="round"/>
<polyline points="130.3,300.0 133.0,309.3 138.3,314.7 143.7,317.3 147.7,325.3 149.0,333.3 150.3,340.0" fill="none" stroke="#f20000" stroke-width="1.4" stroke-linejoin="round" stroke-linecap="round"/>
<polyline points="159.7,296.0 175.7,289.3 189.0,286.7 202.3,284.0 213.0,282.7 222.3,284.0 231.7,285.3" fill="none" stroke="#f20000" stroke-width="1.4" stroke-linejoin="round" stroke-linecap="round"/>
<polyline points="163.7,317.3 166.3,315.3 169.0,317.3 166.3,319.3 163.7,317.3" fill="none" stroke="#f20000" stroke-width="1.4" stroke-linejoin="round" stroke-linecap="round"/>
<polyline points="537.0,64.0 537.0,82.0 531.0,98.0 521.0,104.0 499.0,105.0 479.0,110.0 465.0,120.0 455.0,128.0 443.0,142.0 437.0,154.0 433.0,170.0 431.0,186.0 433.0,202.0 435.0,222.0" fill="none" stroke="#f20000" stroke-width="1.4" stroke-linejoin="round" stroke-linecap="round"/>
<polyline points="599.0,64.0 601.0,72.0 589.0,78.0 569.0,82.0 549.0,88.0 529.0,96.0 521.0,104.0" fill="none" stroke="#f20000" stroke-width="1.4" stroke-linejoin="round" stroke-linecap="round"/>
<polyline points="521.0,106.0 509.0,120.0 503.0,132.0 493.0,146.0 485.0,162.0 481.0,174.0 479.0,190.0 477.0,206.0 477.0,222.0" fill="none" stroke="#f20000" stroke-width="1.4" stroke-linejoin="round" stroke-linecap="round"/>
<polyline points="541.0,222.0 533.0,214.0 525.0,202.0 519.0,186.0 517.0,174.0 521.0,166.0 533.0,160.0 549.0,159.0 565.0,162.0 579.0,168.0 589.0,176.0 597.0,188.0 601.0,202.0 599.0,222.0" fill="none" stroke="#f20000" stroke-width="1.4" stroke-linejoin="round" stroke-linecap="round"/>
<polyline points="529.0,222.0 523.0,202.0 521.0,178.0 529.0,162.0 547.0,153.0 569.0,158.0 585.0,170.0 595.0,182.0 601.0,198.0 605.0,222.0" fill="none" stroke="#f20000" stroke-width="1.4" stroke-linejoin="round" stroke-linecap="round"/>
<polyline points="435.0,222.0 439.0,230.0 449.0,240.0 461.0,246.0 477.0,252.0 497.0,258.0 505.0,260.0 509.0,268.0 507.0,278.0 509.0,288.0 521.0,300.0 529.0,310.0 531.0,322.0 533.0,338.0 531.0,352.0 535.0,362.0 533.0,378.0" fill="none" stroke="#f20000" stroke-width="1.4" stroke-linejoin="round" stroke-linecap="round"/>
<polyline points="477.0,222.0 481.0,234.0 489.0,246.0 491.0,256.0 493.0,268.0 505.0,284.0 517.0,296.0 527.0,308.0 533.0,322.0 535.0,342.0 537.0,362.0 541.0,378.0" fill="none" stroke="#f20000" stroke-width="1.4" stroke-linejoin="round" stroke-linecap="round"/>
<polyline points="539.0,222.0 545.0,234.0 553.0,242.0 561.0,252.0 569.0,264.0 579.0,276.0 589.0,284.0 601.0,298.0 609.0,308.0 619.0,318.0 635.0,326.0 649.0,336.0 663.0,344.0" fill="none" stroke="#f20000" stroke-width="1.4" stroke-linejoin="round" stroke-linecap="round"/>
<polyline points="607.0,222.0 617.0,234.0 629.0,246.0 645.0,256.0 669.0,262.0 689.0,270.0 709.0,276.0" fill="none" stroke="#f20000" stroke-width="1.4" stroke-linejoin="round" stroke-linecap="round"/>
<polyline points="537.0,354.0 549.0,354.0 569.0,358.0 589.0,362.0 609.0,364.0 629.0,362.0 649.0,358.0 665.0,352.0" fill="none" stroke="#f20000" stroke-width="1.4" stroke-linejoin="round" stroke-linecap="round"/>
<polyline points="609.0,368.0 619.0,374.0 629.0,382.0" fill="none" stroke="#f20000" stroke-width="1.4" stroke-linejoin="round" stroke-linecap="round"/>
<polyline points="689.0,344.0 709.0,346.0" fill="none" stroke="#f20000" stroke-width="1.4" stroke-linejoin="round" stroke-linecap="round"/>
<polyline points="693.0,350.0 699.0,360.0 709.0,360.0" fill="none" stroke="#f20000" stroke-width="1.4" stroke-linejoin="round" stroke-linecap="round"/>
<polyline points="943.0,64.0 929.0,74.0 923.0,86.0 909.0,102.0 907.0,114.0 899.0,126.0 889.0,142.0 881.0,154.0 873.0,170.0 865.0,186.0 857.0,202.0 851.0,222.0" fill="none" stroke="#f20000" stroke-width="1.4" stroke-linejoin="round" stroke-linecap="round"/>
<polyline points="977.0,64.0 975.0,72.0 977.0,80.0 969.0,86.0 949.0,98.0 929.0,112.0 909.0,128.0 897.0,140.0 885.0,156.0 877.0,168.0 869.0,182.0 861.0,198.0 853.0,214.0 849.0,222.0" fill="none" stroke="#f20000" stroke-width="1.4" stroke-linejoin="round" stroke-linecap="round"/>
<polyline points="1009.0,68.0 993.0,78.0 985.0,92.0 985.0,104.0 993.0,112.0 1005.0,118.0 1009.0,116.0" fill="none" stroke="#f20000" stroke-width="1.4" stroke-linejoin="round" stroke-linecap="round"/>
<polyline points="961.0,222.0 959.0,202.0 961.0,182.0 963.0,166.0 964.0,150.0" fill="none" stroke="#f20000" stroke-width="1.4" stroke-linejoin="round" stroke-linecap="round"/>
<polyline points="989.0,150.0 985.0,162.0 991.0,174.0 993.0,186.0 997.0,198.0 1003.0,206.0" fill="none" stroke="#f20000" stroke-width="1.4" stroke-linejoin="round" stroke-linecap="round"/>
<polyline points="1009.0,116.0 1021.0,118.0 1031.0,126.0 1031.0,138.0 1037.0,150.0 1043.0,160.0 1053.0,162.0 1055.0,170.0 1057.0,178.0 1065.0,186.0 1071.0,198.0 1065.0,210.0 1065.0,222.0" fill="none" stroke="#f20000" stroke-width="1.4" stroke-linejoin="round" stroke-linecap="round"/>
<polyline points="1009.0,64.0 1021.0,70.0 1031.0,68.0 1035.0,64.0" fill="none" stroke="#f20000" stroke-width="1.4" stroke-linejoin="round" stroke-linecap="round"/>
<polyline points="1055.0,164.0 1057.0,174.0 1063.0,182.0 1069.0,190.0 1075.0,202.0 1083.0,212.0 1085.0,222.0" fill="none" stroke="#f20000" stroke-width="1.4" stroke-linejoin="round" stroke-linecap="round"/>
<polyline points="1069.0,222.0 1081.0,230.0 1085.0,238.0 1093.0,244.0 1105.0,252.0 1113.0,262.0 1121.0,264.0 1129.0,262.0 1131.0,268.0 1127.0,274.0 1117.0,280.0 1109.0,282.0 1101.0,290.0 1095.0,296.0 1085.0,298.0 1069.0,300.0 1059.0,304.0 1049.0,310.0 1045.0,318.0 1047.0,326.0 1069.0,332.0 1093.0,332.0 1101.0,330.0 1101.0,322.0" fill="none" stroke="#f20000" stroke-width="1.4" stroke-linejoin="round" stroke-linecap="round"/>
<polyline points="1031.0,234.0 1033.0,230.0 1043.0,228.0 1046.0,234.0 1045.0,242.0 1039.0,246.0 1031.0,248.0 1031.0,240.0 1033.0,238.0" fill="none" stroke="#f20000" stroke-width="1.4" stroke-linejoin="round" stroke-linecap="round"/>
<polyline points="1023.0,252.0 1033.0,251.0 1041.0,254.0 1039.0,260.0 1029.0,262.0 1023.0,256.0" fill="none" stroke="#f20000" stroke-width="1.4" stroke-linejoin="round" stroke-linecap="round"/>
<polyline points="1125.0,324.0 1135.0,310.0 1149.0,301.0 1165.0,294.0 1177.0,282.0 1185.0,268.0 1193.0,258.0 1210.0,250.0" fill="none" stroke="#f20000" stroke-width="1.4" stroke-linejoin="round" stroke-linecap="round"/>
<polyline points="1125.0,324.0 1125.0,334.0 1133.0,342.0 1145.0,350.0 1153.0,358.0 1161.0,366.0 1167.0,382.0" fill="none" stroke="#f20000" stroke-width="1.4" stroke-linejoin="round" stroke-linecap="round"/>
<polyline points="1011.0,298.0 1019.0,300.0 1029.0,302.0 1049.0,304.0 1057.0,306.0" fill="none" stroke="#f20000" stroke-width="1.4" stroke-linejoin="round" stroke-linecap="round"/>
<polyline points="1009.0,306.0 1019.0,316.0 1029.0,328.0 1041.0,338.0 1053.0,344.0 1069.0,344.0 1085.0,342.0 1097.0,336.0" fill="none" stroke="#f20000" stroke-width="1.4" stroke-linejoin="round" stroke-linecap="round"/>
<polyline points="1147.0,252.0 1153.0,249.0 1165.0,249.0 1167.0,252.0 1161.0,256.0 1149.0,258.0" fill="none" stroke="#f20000" stroke-width="1.4" stroke-linejoin="round" stroke-linecap="round"/>
<polyline points="709.0,284.0 717.0,288.0 729.0,296.0 741.0,306.0 749.0,309.0 753.0,306.0 755.0,300.0 769.0,296.0 789.0,286.0 801.0,280.0 807.0,270.0 805.0,266.0 813.0,264.0 821.0,264.0 833.0,252.0 841.0,250.0 849.0,248.0 857.0,242.0 859.0,234.0 857.0,222.0" fill="none" stroke="#f20000" stroke-width="1.4" stroke-linejoin="round" stroke-linecap="round"/>
<polyline points="709.0,280.0 729.0,286.0 749.0,290.0 769.0,292.0 789.0,290.0 799.0,282.0 809.0,274.0 821.0,266.0 833.0,256.0 833.0,242.0 833.0,230.0 837.0,222.0" fill="none" stroke="#f20000" stroke-width="1.4" stroke-linejoin="round" stroke-linecap="round"/>
<polyline points="709.0,342.0 725.0,342.0 739.0,348.0 759.0,356.0 769.0,358.0" fill="none" stroke="#f20000" stroke-width="1.4" stroke-linejoin="round" stroke-linecap="round"/>
<polyline points="977.0,230.0 979.0,246.0 989.0,262.0 993.0,272.0 997.0,282.0" fill="none" stroke="#f20000" stroke-width="1.4" stroke-linejoin="round" stroke-linecap="round"/>
<polyline points="151.0,330.0 149.0,342.0 157.0,356.0 169.0,366.0 185.0,376.0 201.0,386.0 221.0,394.0 239.0,402.0 259.0,408.0 279.0,410.0 301.0,412.0 319.0,418.0 335.0,426.0 345.0,430.0 359.0,436.0 379.0,440.0 399.0,434.0 409.0,432.0" fill="none" stroke="#f20000" stroke-width="1.4" stroke-linejoin="round" stroke-linecap="round"/>
<polyline points="203.0,390.0 205.0,400.0 221.0,410.0 221.0,418.0 225.0,430.0 221.0,438.0 213.0,446.0 211.0,456.0 221.0,458.0 231.0,462.0 249.0,450.0 269.0,444.0 279.0,438.0 293.0,418.0 309.0,414.0" fill="none" stroke="#f20000" stroke-width="1.4" stroke-linejoin="round" stroke-linecap="round"/>
<polyline points="221.0,422.0 237.0,418.0 261.0,418.0 273.0,420.0 277.0,430.0 279.0,438.0" fill="none" stroke="#f20000" stroke-width="1.4" stroke-linejoin="round" stroke-linecap="round"/>
<polyline points="109.0,376.0 117.0,374.0 121.0,380.0 117.0,390.0 113.0,396.0" fill="none" stroke="#f20000" stroke-width="1.4" stroke-linejoin="round" stroke-linecap="round"/>
<polyline points="111.8,525.0 117.4,505.3 131.5,494.1 142.8,488.4 148.4,491.3" fill="none" stroke="#f20000" stroke-width="1.4" stroke-linejoin="round" stroke-linecap="round"/>
<polyline points="117.4,508.1 125.9,516.6 137.1,519.4 151.2,516.6 162.4,519.4 159.6,536.3 151.2,544.7 137.1,543.3" fill="none" stroke="#f20000" stroke-width="1.4" stroke-linejoin="round" stroke-linecap="round"/>
<polyline points="109.0,564.4 120.3,553.1 137.1,547.5 154.0,536.3 165.3,522.2 168.1,516.6" fill="none" stroke="#f20000" stroke-width="1.4" stroke-linejoin="round" stroke-linecap="round"/>
<polyline points="111.8,637.5 117.4,620.6 131.5,606.6 148.4,598.1 162.4,598.1 168.1,606.6 165.3,620.6 165.3,637.5 168.1,648.8 162.4,654.4 154.0,648.8 145.6,660.0 134.3,660.0 125.9,648.8" fill="none" stroke="#f20000" stroke-width="1.4" stroke-linejoin="round" stroke-linecap="round"/>
<polyline points="109.0,676.9 123.1,682.5 142.8,685.3 151.2,693.8 154.0,705.0" fill="none" stroke="#f20000" stroke-width="1.4" stroke-linejoin="round" stroke-linecap="round"/>
<polyline points="151.2,696.6 165.3,696.6 173.7,705.0" fill="none" stroke="#f20000" stroke-width="1.4" stroke-linejoin="round" stroke-linecap="round"/>
<polyline points="248.2,653.6 252.5,651.6 255.8,653.0 251.1,655.0 248.2,653.6" fill="none" stroke="#f20000" stroke-width="1.4" stroke-linejoin="round" stroke-linecap="round"/>
<polyline points="409.0,432.0 429.0,426.0 449.0,424.0 469.0,428.0 489.0,432.0 509.0,434.0 529.0,438.0 549.0,446.0 569.0,452.0 589.0,458.0 609.0,464.0 629.0,462.0 645.0,462.0 649.0,466.0 665.0,462.0 679.0,466.0 699.0,473.0 709.0,472.0" fill="none" stroke="#f20000" stroke-width="1.4" stroke-linejoin="round" stroke-linecap="round"/>
<polyline points="409.0,418.0 449.0,421.0 479.0,428.0 499.0,436.0 519.0,440.0 529.0,458.0 545.0,470.0 559.0,476.0 579.0,478.0 609.0,484.0 649.0,490.0 689.0,496.0 709.0,497.0" fill="none" stroke="#f20000" stroke-width="1.4" stroke-linejoin="round" stroke-linecap="round"/>
<polyline points="595.0,382.0 609.0,392.0 629.0,398.0 649.0,400.0 645.0,394.0 637.0,388.0 649.0,386.0 657.0,384.0" fill="none" stroke="#f20000" stroke-width="1.4" stroke-linejoin="round" stroke-linecap="round"/>
<polyline points="613.0,382.0 615.0,390.0 629.0,400.0 645.0,402.0" fill="none" stroke="#f20000" stroke-width="1.4" stroke-linejoin="round" stroke-linecap="round"/>
<polyline points="709.0,472.0 721.0,478.0 749.0,488.0 785.0,493.0 829.0,492.0 869.0,488.0 909.0,482.0 949.0,476.0 989.0,472.0 1009.0,466.0" fill="none" stroke="#f20000" stroke-width="1.4" stroke-linejoin="round" stroke-linecap="round"/>
<polyline points="709.0,496.0 739.0,492.0 769.0,491.0 809.0,490.0 849.0,487.0 889.0,484.0 929.0,478.0 969.0,475.0 1009.0,474.0" fill="none" stroke="#f20000" stroke-width="1.4" stroke-linejoin="round" stroke-linecap="round"/>
<polyline points="1009.0,464.0 1043.0,459.0 1069.0,460.0 1099.0,466.0 1121.0,472.0 1149.0,472.0 1189.0,464.0 1210.0,461.0" fill="none" stroke="#f20000" stroke-width="1.4" stroke-linejoin="round" stroke-linecap="round"/>
<polyline points="1009.0,474.0 1029.0,468.0 1049.0,463.0 1079.0,468.0 1109.0,472.0 1149.0,473.0 1189.0,466.0 1210.0,460.0" fill="none" stroke="#f20000" stroke-width="1.4" stroke-linejoin="round" stroke-linecap="round"/>
<polyline points="1139.0,382.0 1145.0,385.0 1157.0,385.0 1163.0,382.0" fill="none" stroke="#f20000" stroke-width="1.4" stroke-linejoin="round" stroke-linecap="round"/>
<polyline points="989.2,67.9 980.3,97.7 971.4,121.5 962.5,151.2 961.0,181.0 968.4,204.8 977.3,228.6 989.2,255.3 1004.1,276.2 1019.0,300.0" fill="none" stroke="#f20000" stroke-width="1.4" stroke-linejoin="round" stroke-linecap="round"/>
<polyline points="986.3,157.2 995.2,151.2 998.2,175.0 989.2,195.8 995.2,225.6 986.3,228.6 983.3,204.8 989.2,181.0 986.3,157.2" fill="none" stroke="#f20000" stroke-width="1.4" stroke-linejoin="round" stroke-linecap="round"/>
<polyline points="1030.9,231.5 1042.8,227.1 1045.7,240.5 1033.8,249.4 1039.8,261.3 1027.9,255.3 1030.9,231.5" fill="none" stroke="#f20000" stroke-width="1.4" stroke-linejoin="round" stroke-linecap="round"/>
<polyline points="154.0,157.0 171.5,154.5 196.5,157.0 221.5,159.5 249.0,164.5 264.0,167.0 269.0,172.0 259.0,174.5 234.0,174.5 209.0,172.0 184.0,169.5 159.0,167.0 146.5,162.0" fill="none" stroke="#f20000" stroke-width="1.4" stroke-linejoin="round" stroke-linecap="round"/>
<polyline points="111.5,174.5 129.0,172.0 146.5,174.5 164.0,179.5 169.0,184.5 146.5,189.5 121.5,187.0 111.5,184.5" fill="none" stroke="#f20000" stroke-width="1.4" stroke-linejoin="round" stroke-linecap="round"/>
<polyline points="234.0,189.5 259.0,192.0 284.0,189.5 309.0,182.0 334.0,172.0 359.0,167.0" fill="none" stroke="#f20000" stroke-width="1.4" stroke-linejoin="round" stroke-linecap="round"/>
<polyline points="314.0,169.5 321.5,192.0 326.5,212.0 329.0,237.0 334.0,247.0" fill="none" stroke="#f20000" stroke-width="1.4" stroke-linejoin="round" stroke-linecap="round"/>
<polyline points="334.0,202.0 346.5,207.0 359.0,212.0 361.5,222.0 354.0,227.0 334.0,227.0 309.0,227.0 284.0,227.0" fill="none" stroke="#f20000" stroke-width="1.4" stroke-linejoin="round" stroke-linecap="round"/>
<polyline points="284.0,232.0 296.5,242.0 321.5,247.0 334.0,237.0" fill="none" stroke="#f20000" stroke-width="1.4" stroke-linejoin="round" stroke-linecap="round"/>
<polyline points="1080.0,332.2 1091.2,336.7 1098.0,345.7 1107.0,352.4 1125.0,356.9 1143.0,361.4 1154.2,368.2 1165.5,374.9" fill="none" stroke="#f20000" stroke-width="1.4" stroke-linejoin="round" stroke-linecap="round"/>
<polyline points="1080.0,343.4 1089.0,356.9 1102.5,365.9 1125.0,370.4 1147.5,374.9 1165.5,377.2" fill="none" stroke="#f20000" stroke-width="1.4" stroke-linejoin="round" stroke-linecap="round"/>
<polyline points="255.2,158.6 267.3,158.6 284.5,162.1 301.8,165.5 319.0,167.3 322.5,175.9 319.0,186.2 322.5,193.1 327.7,200.1" fill="none" stroke="#f20000" stroke-width="1.4" stroke-linejoin="round" stroke-linecap="round"/>
<polyline points="336.3,87.9 341.5,101.7 343.2,113.8 346.6,125.8 353.5,134.5 367.3,137.9 388.1,137.9 405.3,136.2" fill="none" stroke="#f20000" stroke-width="1.4" stroke-linejoin="round" stroke-linecap="round"/>
<polyline points="370.8,65.5 374.2,79.3 384.6,89.6 391.5,96.5 388.1,105.1 379.4,112.0 367.3,115.5 357.0,117.2" fill="none" stroke="#f20000" stroke-width="1.4" stroke-linejoin="round" stroke-linecap="round"/>
<polyline points="138.3,86.0 149.0,86.0 162.3,82.0 178.3,76.7 194.3,83.3 202.3,82.0" fill="none" stroke="#8a0000" stroke-width="1.5" stroke-linejoin="round" stroke-linecap="round"/>
<polyline points="143.7,142.0 145.0,148.7 155.7,152.7 175.7,155.3 189.0,158.0" fill="none" stroke="#8a0000" stroke-width="1.5" stroke-linejoin="round" stroke-linecap="round"/>
<polyline points="433.3,78.0 446.7,82.0 457.3,88.7 460.0,99.3 456.0,108.7 449.3,118.0 440.0,128.7 426.7,136.7 413.3,139.3 393.3,139.3 374.7,134.0 364.0,136.7 357.3,136.7 352.0,131.3 350.7,120.7 350.7,102.0 353.3,95.3 358.7,92.7 366.7,94.0" fill="none" stroke="#8a0000" stroke-width="1.5" stroke-linejoin="round" stroke-linecap="round"/>
<polyline points="420.0,64.7 422.7,70.0 425.3,78.0 438.7,78.0" fill="none" stroke="#8a0000" stroke-width="1.5" stroke-linejoin="round" stroke-linecap="round"/>
<polyline points="500.0,94.0 492.0,102.0 484.0,107.3 478.7,118.0 473.3,128.7 468.0,142.0 462.7,155.3 460.0,162.0" fill="none" stroke="#8a0000" stroke-width="1.5" stroke-linejoin="round" stroke-linecap="round"/>
<polyline points="242.3,224.7 242.3,236.7 243.7,250.0" fill="none" stroke="#8a0000" stroke-width="1.5" stroke-linejoin="round" stroke-linecap="round"/>
<polyline points="293.0,216.7 295.7,223.3 293.0,230.0 282.3,232.7 273.0,230.0 265.0,232.7" fill="none" stroke="#8a0000" stroke-width="1.5" stroke-linejoin="round" stroke-linecap="round"/>
<polyline points="309.0,266.7 295.7,268.0 289.0,264.0 282.3,256.0 274.3,245.3 273.0,240.0" fill="none" stroke="#8a0000" stroke-width="1.5" stroke-linejoin="round" stroke-linecap="round"/>
<polyline points="142.3,288.0 149.0,288.0 159.7,289.3 165.0,297.3 162.3,302.7 151.7,306.7 142.3,309.3 139.7,317.3 143.7,325.3 146.3,333.3 147.7,340.0" fill="none" stroke="#8a0000" stroke-width="1.5" stroke-linejoin="round" stroke-linecap="round"/>
<polyline points="521.0,222.0 519.0,206.0 525.0,196.0 539.0,190.0 553.0,186.0 567.0,187.0 577.0,194.0 583.0,204.0 589.0,214.0 593.0,222.0" fill="none" stroke="#8a0000" stroke-width="1.5" stroke-linejoin="round" stroke-linecap="round"/>
<polyline points="509.0,362.0 529.0,366.0 549.0,366.0 565.0,350.0 579.0,358.0 589.0,366.0 609.0,368.0 629.0,362.0 649.0,354.0 663.0,350.0" fill="none" stroke="#8a0000" stroke-width="1.5" stroke-linejoin="round" stroke-linecap="round"/>
<polyline points="599.0,308.0 595.0,322.0 603.0,334.0 607.0,342.0 605.0,352.0 607.0,362.0 611.0,368.0" fill="none" stroke="#8a0000" stroke-width="1.5" stroke-linejoin="round" stroke-linecap="round"/>
<polyline points="603.0,222.0 613.0,236.0 625.0,250.0 639.0,260.0 659.0,268.0 689.0,275.0 709.0,286.0" fill="none" stroke="#8a0000" stroke-width="1.5" stroke-linejoin="round" stroke-linecap="round"/>
<polyline points="619.0,334.0 625.0,332.0 631.0,338.0 629.0,342.0 621.0,340.0 619.0,334.0" fill="none" stroke="#8a0000" stroke-width="1.5" stroke-linejoin="round" stroke-linecap="round"/>
<polyline points="1009.0,70.0 997.0,80.0 985.0,94.0 975.0,110.0 969.0,128.0 967.0,148.0 965.0,166.0 967.0,186.0 971.0,206.0 975.0,222.0" fill="none" stroke="#8a0000" stroke-width="1.5" stroke-linejoin="round" stroke-linecap="round"/>
<polyline points="1009.0,148.0 1021.0,142.0 1033.0,130.0 1049.0,126.0 1051.0,142.0 1049.0,156.0 1045.0,158.0 1053.0,160.0" fill="none" stroke="#8a0000" stroke-width="1.5" stroke-linejoin="round" stroke-linecap="round"/>
<polyline points="1093.0,346.0 1109.0,350.0 1125.0,354.0 1141.0,362.0 1153.0,366.0 1161.0,374.0 1165.0,382.0" fill="none" stroke="#8a0000" stroke-width="1.5" stroke-linejoin="round" stroke-linecap="round"/>
<polyline points="1153.0,258.0 1169.0,256.0 1189.0,252.0 1210.0,247.0" fill="none" stroke="#8a0000" stroke-width="1.5" stroke-linejoin="round" stroke-linecap="round"/>
<polyline points="849.0,222.0 859.0,234.0 869.0,242.0 875.0,258.0 877.0,272.0 871.0,282.0" fill="none" stroke="#8a0000" stroke-width="1.5" stroke-linejoin="round" stroke-linecap="round"/>
<polyline points="147.0,330.0 147.0,342.0 155.0,356.0 167.0,366.0 185.0,378.0 199.0,386.0 207.0,392.0" fill="none" stroke="#8a0000" stroke-width="1.5" stroke-linejoin="round" stroke-linecap="round"/>
<polyline points="379.0,384.0 399.0,382.0 409.0,383.0" fill="none" stroke="#8a0000" stroke-width="1.5" stroke-linejoin="round" stroke-linecap="round"/>
<polyline points="399.0,384.0 403.0,396.0 409.0,404.0" fill="none" stroke="#8a0000" stroke-width="1.5" stroke-linejoin="round" stroke-linecap="round"/>
<polyline points="335.0,424.0 349.0,422.0 369.0,418.0 389.0,414.0 409.0,416.0" fill="none" stroke="#8a0000" stroke-width="1.5" stroke-linejoin="round" stroke-linecap="round"/>
<polyline points="117.4,615.0 128.7,606.6 139.9,612.2 137.1,626.3 134.3,643.2 139.9,654.4" fill="none" stroke="#8a0000" stroke-width="1.5" stroke-linejoin="round" stroke-linecap="round"/>
<polyline points="409.0,406.0 429.0,416.0 459.0,428.0 489.0,440.0 519.0,454.0 539.0,464.0 559.0,472.0 589.0,480.0 619.0,488.0 649.0,493.0 679.0,500.0 709.0,498.0" fill="none" stroke="#8a0000" stroke-width="1.5" stroke-linejoin="round" stroke-linecap="round"/>
<polyline points="645.0,510.0 651.0,507.6 659.0,510.0 657.0,514.0 648.0,514.4 645.0,510.0" fill="none" stroke="#8a0000" stroke-width="1.5" stroke-linejoin="round" stroke-linecap="round"/>
<polyline points="669.0,510.0 675.0,508.6 681.0,510.0 675.0,511.6 669.0,510.0" fill="none" stroke="#8a0000" stroke-width="1.5" stroke-linejoin="round" stroke-linecap="round"/>
<polyline points="709.0,497.0 729.0,500.0 749.0,496.0 779.0,491.0 809.0,489.0 839.0,488.0 869.0,488.0 883.0,490.0 895.0,487.0 909.0,489.0 929.0,483.0 959.0,478.0 989.0,478.0 1009.0,477.0" fill="none" stroke="#8a0000" stroke-width="1.5" stroke-linejoin="round" stroke-linecap="round"/>
<polyline points="1009.0,478.0 1049.0,475.0 1089.0,474.0 1129.0,473.0 1149.0,471.0 1169.0,466.0 1189.0,463.0 1210.0,462.0" fill="none" stroke="#8a0000" stroke-width="1.5" stroke-linejoin="round" stroke-linecap="round"/>
<polyline points="124.0,169.5 134.0,164.5 159.0,162.0 196.5,160.8 221.5,162.0 244.0,167.0 259.0,169.5 264.0,177.0 249.0,179.5 221.5,179.5 184.0,179.5 154.0,179.5 129.0,177.0" fill="none" stroke="#8a0000" stroke-width="1.5" stroke-linejoin="round" stroke-linecap="round"/>
<polyline points="304.0,167.0 309.0,187.0 306.5,212.0 296.5,224.5 284.0,227.0" fill="none" stroke="#8a0000" stroke-width="1.5" stroke-linejoin="round" stroke-linecap="round"/>
<polyline points="339.0,202.0 346.5,199.5 351.5,204.5 346.5,207.0 339.0,205.8 339.0,202.0" fill="none" stroke="#8a0000" stroke-width="1.5" stroke-linejoin="round" stroke-linecap="round"/>
<polyline points="324.0,164.5 327.8,162.5 331.5,164.5 327.8,166.5 324.0,164.5" fill="none" stroke="#8a0000" stroke-width="1.5" stroke-linejoin="round" stroke-linecap="round"/>
<polyline points="336.5,164.5 340.2,162.5 344.0,164.5 340.2,166.5 336.5,164.5" fill="none" stroke="#8a0000" stroke-width="1.5" stroke-linejoin="round" stroke-linecap="round"/>
<polyline points="1093.5,282.7 1107.0,285.0 1113.7,291.7 1116.0,307.5 1120.5,325.5 1125.0,336.7 1138.5,345.7" fill="none" stroke="#8a0000" stroke-width="1.5" stroke-linejoin="round" stroke-linecap="round"/>
<polyline points="250.0,127.6 275.9,120.7 298.3,112.0 315.6,103.4 322.5,93.1 325.9,79.3 324.2,63.7" fill="none" stroke="#8a0000" stroke-width="1.5" stroke-linejoin="round" stroke-linecap="round"/>
<polyline points="358.7,134.5 362.2,132.8 365.6,136.2 362.2,138.8 358.7,134.5" fill="none" stroke="#8a0000" stroke-width="1.5" stroke-linejoin="round" stroke-linecap="round"/>
<polyline points="256.9,127.9 261.2,126.7 265.5,127.9 261.2,129.3 256.9,127.9" fill="none" stroke="#8a0000" stroke-width="1.5" stroke-linejoin="round" stroke-linecap="round"/>
<polyline points="345.8,146.2 350.1,144.8 355.3,146.2 350.1,147.4 345.8,146.2" fill="none" stroke="#8a0000" stroke-width="1.5" stroke-linejoin="round" stroke-linecap="round"/>
<polyline points="111.7,123.3 122.3,120.7 127.7,112.7 129.0,102.0 135.7,95.3 137.0,86.0 149.0,76.7 162.3,71.3 175.7,67.3 189.0,64.0" fill="none" stroke="#3c0000" stroke-width="1.6" stroke-linejoin="round" stroke-linecap="round"/>
<polyline points="143.7,139.3 149.0,136.7 162.3,131.3 175.7,128.7 189.0,128.0 197.0,131.3 209.0,131.3 222.3,130.0 235.7,124.7 255.7,118.0 275.7,110.0 295.7,100.7 309.0,94.0" fill="none" stroke="#3c0000" stroke-width="1.6" stroke-linejoin="round" stroke-linecap="round"/>
<polyline points="300.0,102.0 313.3,88.7 326.7,75.3 330.7,67.3 332.0,63.3" fill="none" stroke="#3c0000" stroke-width="1.6" stroke-linejoin="round" stroke-linecap="round"/>
<polyline points="364.0,63.3 369.3,75.3 373.3,84.7 376.0,96.7 380.0,104.7 374.7,112.7 366.7,123.3 374.7,127.3 393.3,130.0 414.7,127.3 420.0,118.0 422.7,108.7 426.7,99.3 430.7,88.7 432.0,75.3 430.7,63.3" fill="none" stroke="#3c0000" stroke-width="1.6" stroke-linejoin="round" stroke-linecap="round"/>
<polyline points="500.0,91.3 494.7,94.0 489.3,99.3 486.7,107.3 477.3,118.0 470.7,131.3 465.3,142.0 460.0,152.7 456.0,162.0" fill="none" stroke="#3c0000" stroke-width="1.6" stroke-linejoin="round" stroke-linecap="round"/>
<polyline points="122.3,174.0 123.7,168.7 129.0,166.0 142.3,164.7 162.3,166.0 175.7,168.7 189.0,167.3 202.3,164.7 215.7,163.3 229.0,163.3 242.3,164.7 247.7,168.7 242.3,174.0 249.0,176.7 262.3,170.0 282.3,162.0 295.7,160.7 309.0,163.3" fill="none" stroke="#3c0000" stroke-width="1.6" stroke-linejoin="round" stroke-linecap="round"/>
<polyline points="122.3,174.0 129.0,178.0 149.0,178.0 169.0,178.0 175.7,182.0 185.0,186.0 195.7,187.3 209.0,186.0 219.7,181.3 231.7,180.7 229.0,176.7 223.7,175.3 218.3,163.3" fill="none" stroke="#3c0000" stroke-width="1.6" stroke-linejoin="round" stroke-linecap="round"/>
<polyline points="255.7,218.0 269.0,222.0 282.3,224.7 295.7,222.0 302.3,216.7 309.0,210.0" fill="none" stroke="#3c0000" stroke-width="1.6" stroke-linejoin="round" stroke-linecap="round"/>
<polyline points="194.3,188.7 191.7,196.7 183.7,202.0" fill="none" stroke="#3c0000" stroke-width="1.6" stroke-linejoin="round" stroke-linecap="round"/>
<polyline points="210.3,187.3 218.3,195.3" fill="none" stroke="#3c0000" stroke-width="1.6" stroke-linejoin="round" stroke-linecap="round"/>
<polyline points="255.7,240.0 242.3,244.0 235.7,249.3 233.0,256.0 235.7,262.7 242.3,268.0 249.0,273.3 255.7,280.0 262.3,285.3 267.7,290.7 262.3,296.0 255.7,296.0 249.0,293.3 229.0,290.7 215.7,292.0 202.3,296.0 191.7,302.7 182.3,301.3 173.0,296.0 165.0,293.3 149.0,293.3 139.7,294.7 143.7,300.0 139.7,306.7 134.3,314.7 133.0,322.7 135.7,326.7 142.3,333.3 143.7,340.0" fill="none" stroke="#3c0000" stroke-width="1.6" stroke-linejoin="round" stroke-linecap="round"/>
<polyline points="309.0,290.7 295.7,293.3 269.0,293.3 249.0,296.0 229.0,298.7 215.7,302.7 202.3,302.7 189.0,298.7 175.7,293.3 167.7,288.0 162.3,289.3 162.3,296.0" fill="none" stroke="#3c0000" stroke-width="1.6" stroke-linejoin="round" stroke-linecap="round"/>
<polyline points="541.0,64.0 549.0,68.0 555.0,76.0 549.0,78.0 529.0,80.0 509.0,86.0 493.0,94.0 485.0,106.0 475.0,118.0 467.0,130.0 459.0,144.0 451.0,156.0 447.0,170.0 445.0,182.0 447.0,202.0 449.0,222.0" fill="none" stroke="#3c0000" stroke-width="1.6" stroke-linejoin="round" stroke-linecap="round"/>
<polyline points="505.0,222.0 503.0,212.0 499.0,202.0 495.0,198.0 509.0,192.0 529.0,186.0 539.0,178.0 549.0,172.0 559.0,171.0 569.0,174.0 579.0,182.0 585.0,192.0 589.0,202.0 595.0,214.0 599.0,222.0" fill="none" stroke="#3c0000" stroke-width="1.6" stroke-linejoin="round" stroke-linecap="round"/>
<polyline points="439.0,222.0 441.0,232.0 449.0,246.0 461.0,258.0 473.0,268.0 485.0,276.0 495.0,282.0 507.0,288.0 517.0,294.0 521.0,302.0 529.0,312.0 531.0,322.0 521.0,330.0 513.0,342.0 513.0,352.0 511.0,362.0 521.0,370.0 533.0,378.0 537.0,382.0" fill="none" stroke="#3c0000" stroke-width="1.6" stroke-linejoin="round" stroke-linecap="round"/>
<polyline points="451.0,222.0 457.0,234.0 467.0,248.0 477.0,260.0 489.0,270.0 499.0,280.0 509.0,288.0 517.0,296.0" fill="none" stroke="#3c0000" stroke-width="1.6" stroke-linejoin="round" stroke-linecap="round"/>
<polyline points="509.0,222.0 521.0,230.0 533.0,240.0 545.0,250.0 557.0,262.0 569.0,274.0 581.0,288.0 593.0,298.0 605.0,308.0 619.0,314.0 639.0,320.0 655.0,328.0 661.0,336.0 663.0,346.0 649.0,347.0 635.0,350.0 633.0,362.0 635.0,374.0 629.0,382.0" fill="none" stroke="#3c0000" stroke-width="1.6" stroke-linejoin="round" stroke-linecap="round"/>
<polyline points="595.0,222.0 603.0,234.0 615.0,248.0 629.0,258.0 649.0,266.0 669.0,272.0 689.0,278.0 709.0,282.0" fill="none" stroke="#3c0000" stroke-width="1.6" stroke-linejoin="round" stroke-linecap="round"/>
<polyline points="927.0,64.0 909.0,78.0 895.0,94.0 885.0,108.0 879.0,122.0 869.0,138.0 865.0,152.0 861.0,166.0 861.0,182.0 863.0,198.0 857.0,214.0 853.0,222.0" fill="none" stroke="#3c0000" stroke-width="1.6" stroke-linejoin="round" stroke-linecap="round"/>
<polyline points="921.0,64.0 905.0,78.0 891.0,96.0 881.0,112.0 875.0,126.0 867.0,142.0 861.0,156.0 857.0,172.0 853.0,186.0 847.0,202.0 841.0,214.0 837.0,222.0" fill="none" stroke="#3c0000" stroke-width="1.6" stroke-linejoin="round" stroke-linecap="round"/>
<polyline points="1009.0,74.0 993.0,84.0 981.0,98.0 971.0,114.0 967.0,132.0 965.0,152.0 963.0,168.0 965.0,186.0 969.0,202.0 973.0,222.0" fill="none" stroke="#3c0000" stroke-width="1.6" stroke-linejoin="round" stroke-linecap="round"/>
<polyline points="1009.0,138.0 1019.0,136.0 1029.0,124.0 1049.0,116.0 1052.0,116.0 1055.0,126.0 1057.0,138.0 1055.0,152.0 1059.0,160.0 1069.0,166.0 1071.0,182.0 1073.0,198.0 1077.0,206.0 1089.0,212.0 1097.0,222.0" fill="none" stroke="#3c0000" stroke-width="1.6" stroke-linejoin="round" stroke-linecap="round"/>
<polyline points="1009.0,186.0 1013.0,194.0 1017.0,202.0 1021.0,212.0 1025.0,222.0" fill="none" stroke="#3c0000" stroke-width="1.6" stroke-linejoin="round" stroke-linecap="round"/>
<polyline points="1025.0,222.0 1029.0,232.0 1033.0,248.0 1039.0,262.0 1043.0,274.0 1049.0,290.0 1057.0,302.0" fill="none" stroke="#3c0000" stroke-width="1.6" stroke-linejoin="round" stroke-linecap="round"/>
<polyline points="1079.0,222.0 1085.0,234.0 1097.0,242.0 1105.0,250.0 1109.0,256.0 1117.0,258.0" fill="none" stroke="#3c0000" stroke-width="1.6" stroke-linejoin="round" stroke-linecap="round"/>
<polyline points="1009.0,272.0 1017.0,282.0 1025.0,292.0 1033.0,302.0 1045.0,314.0 1055.0,328.0 1065.0,338.0 1075.0,346.0 1085.0,358.0 1093.0,366.0 1109.0,370.0 1129.0,370.0 1149.0,366.0 1157.0,362.0" fill="none" stroke="#3c0000" stroke-width="1.6" stroke-linejoin="round" stroke-linecap="round"/>
<polyline points="709.0,284.0 729.0,291.0 749.0,296.0 769.0,297.0 789.0,296.0 809.0,290.0 825.0,282.0 837.0,286.0 845.0,296.0 847.0,302.0 829.0,308.0 825.0,314.0 833.0,316.0 849.0,310.0 861.0,302.0 869.0,292.0 871.0,284.0 865.0,282.0 849.0,282.0 845.0,278.0 857.0,272.0 853.0,262.0 849.0,248.0 851.0,234.0 849.0,222.0" fill="none" stroke="#3c0000" stroke-width="1.6" stroke-linejoin="round" stroke-linecap="round"/>
<polyline points="709.0,344.0 729.0,346.0 749.0,344.0 769.0,343.0 779.0,345.0 785.0,352.0 783.0,356.0 769.0,358.0 749.0,360.0 729.0,358.0" fill="none" stroke="#3c0000" stroke-width="1.6" stroke-linejoin="round" stroke-linecap="round"/>
<polyline points="973.0,222.0 977.0,238.0 985.0,254.0 997.0,268.0 1005.0,282.0 1009.0,286.0" fill="none" stroke="#3c0000" stroke-width="1.6" stroke-linejoin="round" stroke-linecap="round"/>
<polyline points="145.0,330.0 143.0,340.0 153.0,354.0 161.0,362.0 173.0,370.0 189.0,380.0 201.0,388.0 205.0,394.0 203.0,404.0 205.0,416.0 213.0,422.0 221.0,428.0 225.0,432.0 221.0,438.0 229.0,434.0 249.0,436.0 261.0,438.0 269.0,442.0 279.0,434.0 289.0,420.0 297.0,408.0 295.0,400.0 309.0,398.0 329.0,400.0 349.0,400.0 369.0,396.0 389.0,392.0 401.0,390.0 409.0,388.0" fill="none" stroke="#3c0000" stroke-width="1.6" stroke-linejoin="round" stroke-linecap="round"/>
<polyline points="109.0,370.0 121.0,369.0 133.0,372.0 135.0,382.0 129.0,390.0 121.0,396.0 115.0,400.0 111.0,406.0 119.0,408.0" fill="none" stroke="#3c0000" stroke-width="1.6" stroke-linejoin="round" stroke-linecap="round"/>
<polyline points="163.0,400.0 167.0,396.0 173.0,399.0 171.0,402.0 163.0,400.0" fill="none" stroke="#3c0000" stroke-width="1.6" stroke-linejoin="round" stroke-linecap="round"/>
<polyline points="125.9,499.7 131.5,491.3 145.6,488.4 148.4,496.9 137.1,502.5 128.7,505.3 125.9,499.7" fill="none" stroke="#3c0000" stroke-width="1.6" stroke-linejoin="round" stroke-linecap="round"/>
<polyline points="111.8,530.6 117.4,513.8 131.5,508.1 142.8,510.9 156.8,513.8 165.3,516.6 159.6,527.8 156.8,541.9 145.6,547.5 131.5,547.5 117.4,539.1 111.8,530.6" fill="none" stroke="#3c0000" stroke-width="1.6" stroke-linejoin="round" stroke-linecap="round"/>
<polyline points="111.8,648.8 114.6,626.3 125.9,612.2 142.8,601.0 159.6,598.1 170.9,603.8 168.1,615.0 159.6,626.3 156.8,643.2 154.0,660.0 151.2,674.1 139.9,679.7 125.9,674.1 120.3,660.0 117.4,648.8" fill="none" stroke="#3c0000" stroke-width="1.6" stroke-linejoin="round" stroke-linecap="round"/>
<polyline points="109.0,682.5 123.1,691.0 131.5,705.0" fill="none" stroke="#3c0000" stroke-width="1.6" stroke-linejoin="round" stroke-linecap="round"/>
<polyline points="409.0,400.0 429.0,410.0 449.0,418.0 469.0,426.0 489.0,436.0 499.0,442.0 513.0,448.0 529.0,458.0 549.0,466.0 569.0,474.0 589.0,478.0 609.0,484.0 629.0,490.0 649.0,494.0 669.0,498.0 689.0,500.0 709.0,497.0" fill="none" stroke="#3c0000" stroke-width="1.6" stroke-linejoin="round" stroke-linecap="round"/>
<polyline points="409.0,390.0 421.0,391.0 435.0,386.0" fill="none" stroke="#3c0000" stroke-width="1.6" stroke-linejoin="round" stroke-linecap="round"/>
<polyline points="529.0,388.0 535.0,386.0 543.0,390.0 545.0,396.0 537.0,397.0 529.0,388.0" fill="none" stroke="#3c0000" stroke-width="1.6" stroke-linejoin="round" stroke-linecap="round"/>
<polyline points="631.0,499.0 637.0,496.0 643.0,499.0 639.0,502.0 631.0,499.0" fill="none" stroke="#3c0000" stroke-width="1.6" stroke-linejoin="round" stroke-linecap="round"/>
<polyline points="709.0,498.0 729.0,496.0 749.0,492.0 779.0,486.0 809.0,483.0 839.0,482.0 869.0,482.0 899.0,481.0 929.0,480.0 959.0,479.0 989.0,480.0 1009.0,481.0" fill="none" stroke="#3c0000" stroke-width="1.6" stroke-linejoin="round" stroke-linecap="round"/>
<polyline points="1009.0,482.0 1049.0,483.0 1069.0,482.0 1089.0,487.0 1109.0,489.0 1129.0,487.0 1149.0,482.0 1169.0,476.0 1189.0,470.0 1210.0,461.0" fill="none" stroke="#3c0000" stroke-width="1.6" stroke-linejoin="round" stroke-linecap="round"/>
<polyline points="983.3,67.9 974.4,91.7 968.4,121.5 964.0,151.2 965.4,181.0 971.4,210.7 983.3,240.5 998.2,270.2 1013.0,300.0" fill="none" stroke="#3c0000" stroke-width="1.6" stroke-linejoin="round" stroke-linecap="round"/>
<polyline points="144.0,139.5 159.0,132.0 184.0,128.2 209.0,129.5 229.0,134.5 249.0,137.0 259.0,144.5 249.0,152.0 229.0,154.5 209.0,155.8 184.0,154.5 159.0,149.5 144.0,144.5" fill="none" stroke="#3c0000" stroke-width="1.6" stroke-linejoin="round" stroke-linecap="round"/>
<polyline points="1080.0,300.7 1098.0,300.7 1111.5,307.5 1109.2,321.0 1116.0,334.4 1134.0,343.4 1147.5,347.9 1158.7,361.4 1165.5,374.9" fill="none" stroke="#3c0000" stroke-width="1.6" stroke-linejoin="round" stroke-linecap="round"/>
<polyline points="1086.7,338.9 1091.2,352.4 1098.0,361.4 1113.7,365.9 1136.2,368.2 1152.0,368.2" fill="none" stroke="#3c0000" stroke-width="1.6" stroke-linejoin="round" stroke-linecap="round"/>
<polyline points="250.0,122.4 267.3,117.2 284.5,112.0 301.8,105.1 315.6,96.5 324.2,82.7 327.7,72.4 329.4,63.7" fill="none" stroke="#3c0000" stroke-width="1.6" stroke-linejoin="round" stroke-linecap="round"/>
<polyline points="250.0,163.8 263.8,160.4 284.5,158.6 301.8,160.4 315.6,165.5 325.9,172.4 329.4,179.3 325.9,186.2" fill="none" stroke="#3c0000" stroke-width="1.6" stroke-linejoin="round" stroke-linecap="round"/>
<polyline points="353.5,141.4 370.8,143.1 388.1,139.7 398.4,134.5" fill="none" stroke="#3c0000" stroke-width="1.6" stroke-linejoin="round" stroke-linecap="round"/>
<polyline points="295.7,64.7 287.7,70.0 279.7,76.7 269.0,84.7 255.7,94.0 247.7,100.7 243.7,107.3 237.0,109.3 222.3,110.0 205.0,111.3 199.7,106.0 191.7,108.0 190.3,115.3 190.3,123.3 194.3,128.7 199.7,134.7 189.0,136.0 169.0,136.7 151.7,139.3 153.0,143.3 162.3,150.0 175.7,154.0 202.3,155.3 215.7,156.7 222.3,155.3 229.0,152.7 242.3,147.3 255.7,136.7 269.0,130.0 273.0,132.7 273.0,142.0 279.7,144.7 289.0,140.7 301.0,128.7 309.0,127.3" fill="none" stroke="#000000" stroke-width="2.0" stroke-linejoin="round" stroke-linecap="round"/>
<polyline points="110.3,96.7 114.3,83.3 122.3,75.3 131.7,64.7" fill="none" stroke="#000000" stroke-width="2.0" stroke-linejoin="round" stroke-linecap="round"/>
<polyline points="109.0,106.0 115.7,111.3 113.0,118.0 111.7,123.3" fill="none" stroke="#000000" stroke-width="2.0" stroke-linejoin="round" stroke-linecap="round"/>
<polyline points="159.7,64.7 159.7,72.7 159.7,82.0 166.3,79.3 171.7,75.3 174.3,67.3 173.0,63.3" fill="none" stroke="#000000" stroke-width="2.0" stroke-linejoin="round" stroke-linecap="round"/>
<polyline points="262.3,162.0 269.0,155.3 282.3,148.7 295.7,144.7 309.0,142.0" fill="none" stroke="#000000" stroke-width="2.0" stroke-linejoin="round" stroke-linecap="round"/>
<polyline points="338.7,63.3 338.7,70.0 344.0,75.3 353.3,75.3 358.7,71.3 362.7,74.0 361.3,82.0 361.3,88.7 366.7,92.7 361.3,94.0 358.7,102.0 356.0,111.3 350.7,120.7 340.0,126.0 329.3,131.3 325.3,136.7 324.0,144.7 322.7,155.3 321.3,162.0" fill="none" stroke="#000000" stroke-width="2.0" stroke-linejoin="round" stroke-linecap="round"/>
<polyline points="410.7,63.3 406.7,68.7 406.7,82.0 405.3,95.3 402.7,106.0 398.7,115.3 394.7,128.7 400.0,134.0 401.3,142.0 398.7,150.0 390.7,158.0 380.0,160.7 369.3,158.0 364.0,148.7 360.0,142.0 353.3,142.0 350.7,147.3 353.3,155.3 354.7,162.0" fill="none" stroke="#000000" stroke-width="2.0" stroke-linejoin="round" stroke-linecap="round"/>
<polyline points="300.0,128.7 306.7,130.0 316.0,134.7 310.7,140.7 300.0,146.0" fill="none" stroke="#000000" stroke-width="2.0" stroke-linejoin="round" stroke-linecap="round"/>
<polyline points="500.0,108.7 486.7,114.0 473.3,122.0 466.7,130.0 464.0,139.3 457.3,148.7 453.3,158.0 452.0,162.0" fill="none" stroke="#000000" stroke-width="2.0" stroke-linejoin="round" stroke-linecap="round"/>
<polyline points="165.0,150.0 175.7,155.3 209.0,155.3 217.0,157.3 213.0,159.3 189.0,160.7 155.7,162.0 141.0,163.3 137.0,168.7 142.3,172.7 162.3,171.3 189.0,171.3 202.3,172.7 222.3,170.0 231.7,166.0 234.3,163.3 229.0,159.3 225.0,156.7 235.7,150.0" fill="none" stroke="#000000" stroke-width="2.0" stroke-linejoin="round" stroke-linecap="round"/>
<polyline points="279.7,150.0 269.0,155.3 262.3,163.3 269.0,170.0 262.3,175.3 263.7,179.3 270.3,182.0 275.7,186.0 289.0,187.3 287.7,196.7 290.3,206.0 291.7,216.7 287.7,223.3 286.3,230.0 282.3,238.0 277.0,243.3 269.0,242.0 262.3,235.3 259.7,226.0 255.7,218.0 245.0,215.3 235.7,219.3 227.7,226.0 219.7,235.3 218.3,243.3 215.7,250.0" fill="none" stroke="#000000" stroke-width="2.0" stroke-linejoin="round" stroke-linecap="round"/>
<polyline points="167.7,204.7 173.0,202.7 183.7,202.0 193.0,204.7 194.3,208.7 189.0,214.0 186.3,219.3 175.7,223.3 173.0,219.3 167.7,219.3 166.3,212.7 167.7,204.7" fill="none" stroke="#000000" stroke-width="2.0" stroke-linejoin="round" stroke-linecap="round"/>
<polyline points="205.0,211.3 210.3,200.7 218.3,197.3 233.0,198.0 226.3,202.0 225.0,208.7 222.3,211.3 210.3,212.7 205.0,211.3" fill="none" stroke="#000000" stroke-width="2.0" stroke-linejoin="round" stroke-linecap="round"/>
<polyline points="149.0,202.0 154.3,207.3" fill="none" stroke="#000000" stroke-width="2.0" stroke-linejoin="round" stroke-linecap="round"/>
<polyline points="168.3,222.7 170.3,227.3 171.7,224.7 169.7,222.0" fill="none" stroke="#000000" stroke-width="2.0" stroke-linejoin="round" stroke-linecap="round"/>
<polyline points="174.3,234.0 175.7,240.7 177.7,242.0 177.0,235.3 174.3,234.0" fill="none" stroke="#000000" stroke-width="2.0" stroke-linejoin="round" stroke-linecap="round"/>
<polyline points="159.7,212.7 161.3,215.1" fill="none" stroke="#000000" stroke-width="2.0" stroke-linejoin="round" stroke-linecap="round"/>
<polyline points="218.3,240.0 217.0,245.3 210.3,249.3 201.0,254.7 197.0,262.7 191.7,270.7 186.3,277.3 179.7,281.3 178.3,286.7 174.3,293.3 167.7,300.0 162.3,302.7 151.7,305.3 146.3,309.3 147.7,316.0 153.0,320.0 157.0,324.0 154.3,328.0 153.0,333.3 154.3,340.0" fill="none" stroke="#000000" stroke-width="2.0" stroke-linejoin="round" stroke-linecap="round"/>
<polyline points="178.3,249.3 181.0,248.0 185.0,252.0 185.7,256.0 182.3,254.7 178.3,249.3" fill="none" stroke="#000000" stroke-width="2.0" stroke-linejoin="round" stroke-linecap="round"/>
<polyline points="181.7,263.3 184.3,262.7 183.7,268.7 181.7,268.0 181.7,263.3" fill="none" stroke="#000000" stroke-width="2.0" stroke-linejoin="round" stroke-linecap="round"/>
<polyline points="266.3,240.0 274.3,244.0 281.0,240.7" fill="none" stroke="#000000" stroke-width="2.0" stroke-linejoin="round" stroke-linecap="round"/>
<polyline points="539.0,64.0 537.0,74.0 535.0,88.0 529.0,96.0 513.0,98.0 503.0,102.0 489.0,112.0 477.0,120.0 467.0,128.0 463.0,138.0 457.0,146.0 453.0,156.0 445.0,170.0 441.0,182.0 439.0,198.0 441.0,222.0" fill="none" stroke="#000000" stroke-width="2.0" stroke-linejoin="round" stroke-linecap="round"/>
<polyline points="515.0,222.0 513.0,210.0 517.0,198.0 525.0,190.0 539.0,186.0 555.0,182.0 569.0,184.0 579.0,190.0 585.0,198.0 593.0,210.0 599.0,222.0" fill="none" stroke="#000000" stroke-width="2.0" stroke-linejoin="round" stroke-linecap="round"/>
<polyline points="441.0,222.0 443.0,234.0 445.0,244.0 453.0,256.0 465.0,268.0 477.0,276.0 487.0,282.0 493.0,290.0 501.0,295.0 509.0,291.0 521.0,290.0 533.0,298.0 545.0,308.0 550.0,316.0 547.0,324.0 533.0,328.0 527.0,334.0 525.0,342.0 529.0,352.0 531.0,362.0 541.0,368.0 555.0,376.0 569.0,382.0" fill="none" stroke="#000000" stroke-width="2.0" stroke-linejoin="round" stroke-linecap="round"/>
<polyline points="599.0,222.0 609.0,232.0 621.0,246.0 633.0,256.0 649.0,264.0 669.0,270.0 689.0,276.0 709.0,280.0" fill="none" stroke="#000000" stroke-width="2.0" stroke-linejoin="round" stroke-linecap="round"/>
<polyline points="515.0,222.0 525.0,228.0 537.0,234.0 549.0,242.0 561.0,252.0 573.0,264.0 583.0,274.0 591.0,286.0 599.0,302.0 609.0,310.0 619.0,318.0 629.0,328.0 639.0,336.0 649.0,346.0 659.0,354.0 665.0,358.0 659.0,360.0 649.0,350.0 641.0,348.0 637.0,352.0 639.0,358.0 649.0,362.0 653.0,370.0 649.0,376.0 639.0,382.0" fill="none" stroke="#000000" stroke-width="2.0" stroke-linejoin="round" stroke-linecap="round"/>
<polyline points="955.0,64.0 929.0,72.0 905.0,84.0 889.0,96.0 873.0,110.0 861.0,122.0 849.0,138.0 841.0,152.0 837.0,166.0 835.0,182.0 833.0,198.0 835.0,208.0 837.0,222.0" fill="none" stroke="#000000" stroke-width="2.0" stroke-linejoin="round" stroke-linecap="round"/>
<polyline points="1009.0,68.0 997.0,78.0 985.0,92.0 977.0,108.0 975.0,122.0 975.0,142.0 973.0,162.0 975.0,182.0 977.0,202.0 981.0,222.0" fill="none" stroke="#000000" stroke-width="2.0" stroke-linejoin="round" stroke-linecap="round"/>
<polyline points="1009.0,102.0 993.0,108.0 981.0,120.0" fill="none" stroke="#000000" stroke-width="2.0" stroke-linejoin="round" stroke-linecap="round"/>
<polyline points="1009.0,102.0 1021.0,92.0 1033.0,82.0 1045.0,74.0 1053.0,68.0 1059.0,64.0" fill="none" stroke="#000000" stroke-width="2.0" stroke-linejoin="round" stroke-linecap="round"/>
<polyline points="1009.0,88.0 1017.0,80.0 1027.0,70.0 1031.0,64.0" fill="none" stroke="#000000" stroke-width="2.0" stroke-linejoin="round" stroke-linecap="round"/>
<polyline points="1011.0,152.0 1013.0,156.0 1029.0,160.0 1049.0,161.0 1065.0,162.0 1069.0,168.0 1069.0,178.0 1071.0,190.0 1073.0,202.0 1085.0,210.0 1095.0,216.0 1099.0,222.0" fill="none" stroke="#000000" stroke-width="2.0" stroke-linejoin="round" stroke-linecap="round"/>
<polyline points="1014.0,204.0 1018.0,200.0 1022.6,203.0 1021.0,207.6 1016.0,208.0 1014.0,204.0" fill="none" stroke="#000000" stroke-width="2.0" stroke-linejoin="round" stroke-linecap="round"/>
<polyline points="1097.0,222.0 1103.0,228.0 1113.0,232.0 1115.0,242.0 1109.0,252.0 1117.0,258.0 1133.0,259.0 1149.0,262.0 1155.0,268.0 1157.0,272.0 1169.0,273.0 1177.0,270.0 1178.0,265.0 1169.0,262.0 1161.0,263.0 1157.0,268.0" fill="none" stroke="#000000" stroke-width="2.0" stroke-linejoin="round" stroke-linecap="round"/>
<polyline points="1169.0,262.0 1185.0,257.0 1199.0,254.0 1210.0,248.0" fill="none" stroke="#000000" stroke-width="2.0" stroke-linejoin="round" stroke-linecap="round"/>
<polyline points="1009.0,226.0 1017.0,232.0 1021.0,244.0 1029.0,258.0 1035.0,270.0 1041.0,280.0 1047.0,292.0 1053.0,302.0 1057.0,306.0 1065.0,298.0 1073.0,296.0 1089.0,296.0 1101.0,300.0 1107.0,304.0 1103.0,310.0 1101.0,318.0 1105.0,330.0 1113.0,338.0 1129.0,344.0 1139.0,346.0 1149.0,352.0 1157.0,360.0 1161.0,366.0 1167.0,378.0" fill="none" stroke="#000000" stroke-width="2.0" stroke-linejoin="round" stroke-linecap="round"/>
<polyline points="1009.0,266.0 1017.0,276.0 1023.0,288.0 1029.0,298.0 1035.0,308.0 1043.0,318.0 1051.0,330.0 1057.0,338.0 1063.0,346.0 1071.0,352.0 1079.0,362.0 1085.0,368.0 1093.0,374.0 1101.0,382.0" fill="none" stroke="#000000" stroke-width="2.0" stroke-linejoin="round" stroke-linecap="round"/>
<polyline points="709.0,282.0 729.0,288.0 749.0,294.0 769.0,298.0 793.0,300.0 809.0,296.0 821.0,290.0 833.0,287.0 841.0,290.0 849.0,298.0 857.0,306.0 865.0,308.0 873.0,306.0 873.0,300.0 867.0,294.0 865.0,284.0 869.0,280.0 871.0,272.0 867.0,262.0 863.0,252.0 859.0,244.0 849.0,242.0 839.0,234.0 835.0,222.0" fill="none" stroke="#000000" stroke-width="2.0" stroke-linejoin="round" stroke-linecap="round"/>
<polyline points="709.0,348.0 719.0,344.0 739.0,344.0 759.0,352.0 771.0,354.0 769.0,360.0 755.0,364.0 729.0,364.0 709.0,362.0" fill="none" stroke="#000000" stroke-width="2.0" stroke-linejoin="round" stroke-linecap="round"/>
<polyline points="729.0,352.0 739.0,348.0 759.0,353.0 769.0,356.0 759.0,360.0 735.0,358.0 729.0,352.0" fill="none" stroke="#000000" stroke-width="2.0" stroke-linejoin="round" stroke-linecap="round"/>
<polyline points="981.0,222.0 993.0,238.0 1003.0,258.0 1009.0,270.0" fill="none" stroke="#000000" stroke-width="2.0" stroke-linejoin="round" stroke-linecap="round"/>
<polyline points="149.0,330.0 155.0,338.0 161.0,350.0 165.0,360.0 175.0,370.0 189.0,378.0 201.0,384.0 209.0,388.0 211.0,394.0 209.0,400.0 205.0,406.0 205.0,414.0 209.0,420.0 217.0,424.0 229.0,426.0 245.0,428.0 261.0,432.0 271.0,431.0 275.0,424.0 277.0,414.0 285.0,406.0 283.0,396.0 289.0,394.0 309.0,396.0 329.0,398.0 349.0,397.0 369.0,392.0 379.0,386.0 389.0,384.0 409.0,382.0" fill="none" stroke="#000000" stroke-width="2.0" stroke-linejoin="round" stroke-linecap="round"/>
<polyline points="109.0,367.0 125.0,367.0 137.0,370.0 139.0,378.0 135.0,388.0 125.0,394.0 117.0,400.0 121.0,406.0 123.0,410.0 117.0,412.0 113.0,408.0 111.0,400.0" fill="none" stroke="#000000" stroke-width="2.0" stroke-linejoin="round" stroke-linecap="round"/>
<polyline points="139.9,525.0 145.6,520.8 151.2,525.0 148.4,530.6 141.3,530.6 139.9,525.0" fill="none" stroke="#000000" stroke-width="2.0" stroke-linejoin="round" stroke-linecap="round"/>
<polyline points="123.1,631.9 131.5,623.5 142.8,620.6 145.6,629.1 142.8,637.5 125.9,640.3 120.3,641.7 123.1,631.9" fill="none" stroke="#000000" stroke-width="2.0" stroke-linejoin="round" stroke-linecap="round"/>
<polyline points="148.4,646.0 156.8,641.7 161.0,643.2 156.8,648.8 148.4,650.2 148.4,646.0" fill="none" stroke="#000000" stroke-width="2.0" stroke-linejoin="round" stroke-linecap="round"/>
<polyline points="409.0,384.0 429.0,386.0 441.0,389.0 435.0,394.0 433.0,404.0 457.0,410.0 469.0,416.0 485.0,424.0 497.0,432.0 509.0,442.0 521.0,452.0 537.0,460.0 553.0,468.0 569.0,472.0 577.0,478.0 589.0,482.0 609.0,488.0 629.0,498.0 639.0,500.0 659.0,498.0 665.0,504.0 675.0,508.0 689.0,505.0 709.0,504.0" fill="none" stroke="#000000" stroke-width="2.0" stroke-linejoin="round" stroke-linecap="round"/>
<polyline points="569.0,382.0 579.0,386.0 599.0,390.0 619.0,386.0 633.0,382.0" fill="none" stroke="#000000" stroke-width="2.0" stroke-linejoin="round" stroke-linecap="round"/>
<polyline points="709.0,504.0 725.0,498.0 749.0,491.0 769.0,487.0 789.0,484.0 809.0,481.0 829.0,479.0 849.0,474.0 869.0,474.4 889.0,471.0 915.0,473.0 929.0,480.0 939.0,484.0 959.0,483.0 979.0,481.0 989.0,484.0 1009.0,490.0" fill="none" stroke="#000000" stroke-width="2.0" stroke-linejoin="round" stroke-linecap="round"/>
<polyline points="718.0,394.4 723.0,395.0" fill="none" stroke="#000000" stroke-width="2.0" stroke-linejoin="round" stroke-linecap="round"/>
<polyline points="1009.0,490.0 1029.0,495.0 1049.0,497.6 1075.0,499.6 1099.0,497.0 1129.0,494.0 1149.0,488.0 1169.0,480.0 1189.0,472.0 1210.0,466.0" fill="none" stroke="#000000" stroke-width="2.0" stroke-linejoin="round" stroke-linecap="round"/>
<polyline points="1109.0,382.0 1129.0,386.0 1149.0,387.0 1163.0,384.0" fill="none" stroke="#000000" stroke-width="2.0" stroke-linejoin="round" stroke-linecap="round"/>
<polyline points="1001.1,157.2 1004.1,181.0 1007.1,210.7 1016.0,234.5 1027.9,264.3 1039.8,288.1 1045.7,300.0" fill="none" stroke="#000000" stroke-width="2.0" stroke-linejoin="round" stroke-linecap="round"/>
<polyline points="324.0,132.0 321.5,149.5 317.8,167.0 316.5,184.5 326.5,189.5 334.0,184.5 349.0,177.0 356.5,169.5 355.2,157.0 351.5,144.5 359.0,142.0 366.5,147.0 371.5,157.0 384.0,159.5 396.5,154.5 400.2,137.0 396.5,129.5" fill="none" stroke="#000000" stroke-width="2.0" stroke-linejoin="round" stroke-linecap="round"/>
<polyline points="1080.0,296.2 1093.5,296.2 1107.0,303.0 1102.5,312.0 1102.5,325.5 1109.2,334.4 1125.0,343.4 1140.7,347.9 1152.0,354.7 1161.0,365.9 1167.7,377.2 1158.7,383.9 1136.2,386.2 1113.7,383.9 1098.0,379.4 1089.0,368.2 1084.5,352.4 1080.0,343.4" fill="none" stroke="#000000" stroke-width="2.0" stroke-linejoin="round" stroke-linecap="round"/>

<g fill="#000"><circle cx="282" cy="122.4" r="1.6"/><circle cx="289.7" cy="117.2" r="1.3"/><circle cx="308.7" cy="123.3" r="1.8"/></g>
<line x1="435.6" y1="153.5" x2="348.3" y2="612" stroke="#000" stroke-width="2.6" stroke-dasharray="2.6 3.9"/>
<g fill="none" stroke="#ff7f0e" stroke-width="3.1">
<circle cx="224" cy="279.6" r="12.2"/>
<circle cx="220" cy="280" r="8.2"/>
<circle cx="273" cy="297.6" r="21.8"/>
<circle cx="335" cy="314" r="22.2"/>
<circle cx="397" cy="332" r="22.2"/>
<circle cx="458" cy="350" r="21.8"/>
<polyline points="210,280 397,332" stroke-width="4.5"/>
<polyline points="397,332 436,343 396,356 406,300" stroke-linejoin="round"/>
</g>
</g>
<text x="825" y="651.9" font-size="11.1" font-family="DejaVu Sans, Liberation Sans, sans-serif">Red lines show the 48mm contour of integrated column water</text><text x="825" y="663.4" font-size="11.1" font-family="DejaVu Sans, Liberation Sans, sans-serif">vapour. The darker the line, the newer the forecast.</text><text x="825" y="674.9" font-size="11.1" font-family="DejaVu Sans, Liberation Sans, sans-serif">Latest ECMWF IFS forecast initialization: 2024-09-20 00:00 UTC</text><text x="825" y="686.4" font-size="11.1" font-family="DejaVu Sans, Liberation Sans, sans-serif">Satellite tracks forecast issued on: 2024-09-19 00:00 UTC</text>
<rect x="109.3" y="62.2" width="1102.6" height="643.0" fill="none" stroke="#000" stroke-width="2.6"/>
<line x1="201.6" y1="705.2" x2="201.6" y2="717.7" stroke="#000" stroke-width="2.6"/><text x="201.6" y="739.6" font-size="22.9" text-anchor="middle" font-family="DejaVu Sans, Liberation Sans, sans-serif">−60</text><line x1="385.3" y1="705.2" x2="385.3" y2="717.7" stroke="#000" stroke-width="2.6"/><text x="385.3" y="739.6" font-size="22.9" text-anchor="middle" font-family="DejaVu Sans, Liberation Sans, sans-serif">−50</text><line x1="569.0" y1="705.2" x2="569.0" y2="717.7" stroke="#000" stroke-width="2.6"/><text x="569.0" y="739.6" font-size="22.9" text-anchor="middle" font-family="DejaVu Sans, Liberation Sans, sans-serif">−40</text><line x1="752.7" y1="705.2" x2="752.7" y2="717.7" stroke="#000" stroke-width="2.6"/><text x="752.7" y="739.6" font-size="22.9" text-anchor="middle" font-family="DejaVu Sans, Liberation Sans, sans-serif">−30</text><line x1="936.4" y1="705.2" x2="936.4" y2="717.7" stroke="#000" stroke-width="2.6"/><text x="936.4" y="739.6" font-size="22.9" text-anchor="middle" font-family="DejaVu Sans, Liberation Sans, sans-serif">−20</text><line x1="1120.1" y1="705.2" x2="1120.1" y2="717.7" stroke="#000" stroke-width="2.6"/><text x="1120.1" y="739.6" font-size="22.9" text-anchor="middle" font-family="DejaVu Sans, Liberation Sans, sans-serif">−10</text><line x1="96.8" y1="705.2" x2="109.3" y2="705.2" stroke="#000" stroke-width="2.6"/><text x="91.7" y="713.5" font-size="22.9" text-anchor="end" font-family="DejaVu Sans, Liberation Sans, sans-serif">−10</text><line x1="96.8" y1="521.5" x2="109.3" y2="521.5" stroke="#000" stroke-width="2.6"/><text x="91.7" y="529.8" font-size="22.9" text-anchor="end" font-family="DejaVu Sans, Liberation Sans, sans-serif">0</text><line x1="96.8" y1="337.8" x2="109.3" y2="337.8" stroke="#000" stroke-width="2.6"/><text x="91.7" y="346.1" font-size="22.9" text-anchor="end" font-family="DejaVu Sans, Liberation Sans, sans-serif">10</text><line x1="96.8" y1="154.1" x2="109.3" y2="154.1" stroke="#000" stroke-width="2.6"/><text x="91.7" y="162.4" font-size="22.9" text-anchor="end" font-family="DejaVu Sans, Liberation Sans, sans-serif">20</text>
<text x="660.6" y="54" font-size="25" text-anchor="middle" font-family="DejaVu Sans, Liberation Sans, sans-serif">Valid time: 2024-09-23 12:00UTC</text><text x="660.6" y="770" font-size="25" text-anchor="middle" font-family="DejaVu Sans, Liberation Sans, sans-serif">Longitude / °E</text><text transform="translate(32.1,384.9) rotate(-90)" font-size="25" text-anchor="middle" font-family="DejaVu Sans, Liberation Sans, sans-serif">Latitude / °N</text>
<rect x="1279" y="593.2" width="30" height="60.0" fill="#ffffff"/><rect x="1279" y="533.5" width="30" height="60.0" fill="#7fc97f"/><rect x="1279" y="473.8" width="30" height="60.0" fill="#beaed4"/><rect x="1279" y="414.0" width="30" height="60.0" fill="#fdc086"/><rect x="1279" y="354.2" width="30" height="60.0" fill="#ffff99"/><rect x="1279" y="294.5" width="30" height="60.0" fill="#386cb0"/><rect x="1279" y="234.8" width="30" height="60.0" fill="#f0027f"/><rect x="1279" y="175.0" width="30" height="60.0" fill="#bf5b17"/><rect x="1279" y="115.2" width="30" height="60.0" fill="#666666"/><polygon points="1279,116.2 1279,115.2 1294.0,88 1309,115.2 1309,116.2" fill="#666666"/><polygon points="1279,652.0 1279,653.0 1294.0,680 1309,653.0 1309,652.0" fill="#ffffff"/><polygon points="1279,653.0 1279,115.2 1294.0,88 1309,115.2 1309,653.0 1294.0,680" fill="none" stroke="#000" stroke-width="2.6" stroke-linejoin="miter"/><line x1="1309" y1="653.0" x2="1322.0" y2="653.0" stroke="#000" stroke-width="2.6"/><text x="1326.8" y="661.4" font-size="22.9" font-family="DejaVu Sans, Liberation Sans, sans-serif">5.0</text><line x1="1309" y1="593.2" x2="1322.0" y2="593.2" stroke="#000" stroke-width="2.6"/><text x="1326.8" y="601.6" font-size="22.9" font-family="DejaVu Sans, Liberation Sans, sans-serif">6.5</text><line x1="1309" y1="533.5" x2="1322.0" y2="533.5" stroke="#000" stroke-width="2.6"/><text x="1326.8" y="541.9" font-size="22.9" font-family="DejaVu Sans, Liberation Sans, sans-serif">8.0</text><line x1="1309" y1="473.8" x2="1322.0" y2="473.8" stroke="#000" stroke-width="2.6"/><text x="1326.8" y="482.1" font-size="22.9" font-family="DejaVu Sans, Liberation Sans, sans-serif">9.5</text><line x1="1309" y1="414.0" x2="1322.0" y2="414.0" stroke="#000" stroke-width="2.6"/><text x="1326.8" y="422.4" font-size="22.9" font-family="DejaVu Sans, Liberation Sans, sans-serif">11.0</text><line x1="1309" y1="354.2" x2="1322.0" y2="354.2" stroke="#000" stroke-width="2.6"/><text x="1326.8" y="362.6" font-size="22.9" font-family="DejaVu Sans, Liberation Sans, sans-serif">12.5</text><line x1="1309" y1="294.5" x2="1322.0" y2="294.5" stroke="#000" stroke-width="2.6"/><text x="1326.8" y="302.9" font-size="22.9" font-family="DejaVu Sans, Liberation Sans, sans-serif">14.0</text><line x1="1309" y1="234.8" x2="1322.0" y2="234.8" stroke="#000" stroke-width="2.6"/><text x="1326.8" y="243.2" font-size="22.9" font-family="DejaVu Sans, Liberation Sans, sans-serif">15.5</text><line x1="1309" y1="175.0" x2="1322.0" y2="175.0" stroke="#000" stroke-width="2.6"/><text x="1326.8" y="183.4" font-size="22.9" font-family="DejaVu Sans, Liberation Sans, sans-serif">17.0</text><line x1="1309" y1="115.2" x2="1322.0" y2="115.2" stroke="#000" stroke-width="2.6"/><text x="1326.8" y="123.7" font-size="22.9" font-family="DejaVu Sans, Liberation Sans, sans-serif">18.5</text><text transform="translate(1400.6,384) rotate(-90)" font-size="25" text-anchor="middle" font-family="DejaVu Sans, Liberation Sans, sans-serif">Cloud top height / km</text>
</svg></body></html>
